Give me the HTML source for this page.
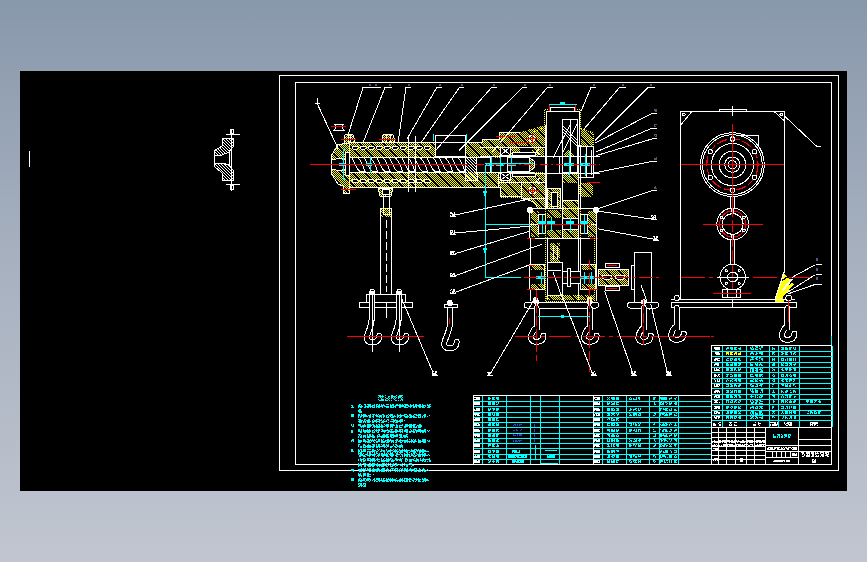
<!DOCTYPE html>
<html><head><meta charset="utf-8">
<style>
html,body{margin:0;padding:0;width:867px;height:562px;overflow:hidden;}
body{background:linear-gradient(to bottom,#8898ab 0%,#a6b0bf 45%,#c1c6d0 100%);font-family:"Liberation Sans",sans-serif;}
svg{position:absolute;left:0;top:0;display:block;}
</style></head><body>
<svg width="867" height="562" viewBox="0 0 867 562" shape-rendering="crispEdges">
<defs>
<pattern id="h" x="0" y="0" width="12" height="12" patternUnits="userSpaceOnUse"><rect x="2" y="0" width="1" height="1" fill="#ff0"/><rect x="4" y="0" width="1" height="1" fill="#ff0"/><rect x="6" y="0" width="1" height="1" fill="#ff0"/><rect x="8" y="0" width="1" height="1" fill="#ff0"/><rect x="10" y="0" width="1" height="1" fill="#ff0"/><rect x="3" y="1" width="1" height="1" fill="#ff0"/><rect x="5" y="1" width="1" height="1" fill="#ff0"/><rect x="7" y="1" width="1" height="1" fill="#ff0"/><rect x="9" y="1" width="1" height="1" fill="#ff0"/><rect x="11" y="1" width="1" height="1" fill="#ff0"/><rect x="0" y="2" width="1" height="1" fill="#ff0"/><rect x="4" y="2" width="1" height="1" fill="#ff0"/><rect x="6" y="2" width="1" height="1" fill="#ff0"/><rect x="8" y="2" width="1" height="1" fill="#ff0"/><rect x="10" y="2" width="1" height="1" fill="#ff0"/><rect x="1" y="3" width="1" height="1" fill="#ff0"/><rect x="5" y="3" width="1" height="1" fill="#ff0"/><rect x="7" y="3" width="1" height="1" fill="#ff0"/><rect x="9" y="3" width="1" height="1" fill="#ff0"/><rect x="11" y="3" width="1" height="1" fill="#ff0"/><rect x="0" y="4" width="1" height="1" fill="#ff0"/><rect x="2" y="4" width="1" height="1" fill="#ff0"/><rect x="6" y="4" width="1" height="1" fill="#ff0"/><rect x="8" y="4" width="1" height="1" fill="#ff0"/><rect x="10" y="4" width="1" height="1" fill="#ff0"/><rect x="1" y="5" width="1" height="1" fill="#ff0"/><rect x="3" y="5" width="1" height="1" fill="#ff0"/><rect x="7" y="5" width="1" height="1" fill="#ff0"/><rect x="9" y="5" width="1" height="1" fill="#ff0"/><rect x="11" y="5" width="1" height="1" fill="#ff0"/><rect x="0" y="6" width="1" height="1" fill="#ff0"/><rect x="2" y="6" width="1" height="1" fill="#ff0"/><rect x="4" y="6" width="1" height="1" fill="#ff0"/><rect x="8" y="6" width="1" height="1" fill="#ff0"/><rect x="10" y="6" width="1" height="1" fill="#ff0"/><rect x="1" y="7" width="1" height="1" fill="#ff0"/><rect x="3" y="7" width="1" height="1" fill="#ff0"/><rect x="5" y="7" width="1" height="1" fill="#ff0"/><rect x="9" y="7" width="1" height="1" fill="#ff0"/><rect x="11" y="7" width="1" height="1" fill="#ff0"/><rect x="0" y="8" width="1" height="1" fill="#ff0"/><rect x="2" y="8" width="1" height="1" fill="#ff0"/><rect x="4" y="8" width="1" height="1" fill="#ff0"/><rect x="6" y="8" width="1" height="1" fill="#ff0"/><rect x="10" y="8" width="1" height="1" fill="#ff0"/><rect x="1" y="9" width="1" height="1" fill="#ff0"/><rect x="3" y="9" width="1" height="1" fill="#ff0"/><rect x="5" y="9" width="1" height="1" fill="#ff0"/><rect x="7" y="9" width="1" height="1" fill="#ff0"/><rect x="11" y="9" width="1" height="1" fill="#ff0"/><rect x="0" y="10" width="1" height="1" fill="#ff0"/><rect x="2" y="10" width="1" height="1" fill="#ff0"/><rect x="4" y="10" width="1" height="1" fill="#ff0"/><rect x="6" y="10" width="1" height="1" fill="#ff0"/><rect x="8" y="10" width="1" height="1" fill="#ff0"/><rect x="1" y="11" width="1" height="1" fill="#ff0"/><rect x="3" y="11" width="1" height="1" fill="#ff0"/><rect x="5" y="11" width="1" height="1" fill="#ff0"/><rect x="7" y="11" width="1" height="1" fill="#ff0"/><rect x="9" y="11" width="1" height="1" fill="#ff0"/></pattern>
<pattern id="h2" x="0" y="0" width="12" height="12" patternUnits="userSpaceOnUse"><rect x="2" y="0" width="1" height="1" fill="#ff0"/><rect x="4" y="0" width="1" height="1" fill="#ff0"/><rect x="6" y="0" width="1" height="1" fill="#ff0"/><rect x="8" y="0" width="1" height="1" fill="#ff0"/><rect x="10" y="0" width="1" height="1" fill="#ff0"/><rect x="1" y="1" width="1" height="1" fill="#ff0"/><rect x="3" y="1" width="1" height="1" fill="#ff0"/><rect x="5" y="1" width="1" height="1" fill="#ff0"/><rect x="7" y="1" width="1" height="1" fill="#ff0"/><rect x="9" y="1" width="1" height="1" fill="#ff0"/><rect x="0" y="2" width="1" height="1" fill="#ff0"/><rect x="2" y="2" width="1" height="1" fill="#ff0"/><rect x="4" y="2" width="1" height="1" fill="#ff0"/><rect x="6" y="2" width="1" height="1" fill="#ff0"/><rect x="8" y="2" width="1" height="1" fill="#ff0"/><rect x="1" y="3" width="1" height="1" fill="#ff0"/><rect x="3" y="3" width="1" height="1" fill="#ff0"/><rect x="5" y="3" width="1" height="1" fill="#ff0"/><rect x="7" y="3" width="1" height="1" fill="#ff0"/><rect x="11" y="3" width="1" height="1" fill="#ff0"/><rect x="0" y="4" width="1" height="1" fill="#ff0"/><rect x="2" y="4" width="1" height="1" fill="#ff0"/><rect x="4" y="4" width="1" height="1" fill="#ff0"/><rect x="6" y="4" width="1" height="1" fill="#ff0"/><rect x="10" y="4" width="1" height="1" fill="#ff0"/><rect x="1" y="5" width="1" height="1" fill="#ff0"/><rect x="3" y="5" width="1" height="1" fill="#ff0"/><rect x="5" y="5" width="1" height="1" fill="#ff0"/><rect x="9" y="5" width="1" height="1" fill="#ff0"/><rect x="11" y="5" width="1" height="1" fill="#ff0"/><rect x="0" y="6" width="1" height="1" fill="#ff0"/><rect x="2" y="6" width="1" height="1" fill="#ff0"/><rect x="4" y="6" width="1" height="1" fill="#ff0"/><rect x="8" y="6" width="1" height="1" fill="#ff0"/><rect x="10" y="6" width="1" height="1" fill="#ff0"/><rect x="1" y="7" width="1" height="1" fill="#ff0"/><rect x="3" y="7" width="1" height="1" fill="#ff0"/><rect x="7" y="7" width="1" height="1" fill="#ff0"/><rect x="9" y="7" width="1" height="1" fill="#ff0"/><rect x="11" y="7" width="1" height="1" fill="#ff0"/><rect x="0" y="8" width="1" height="1" fill="#ff0"/><rect x="2" y="8" width="1" height="1" fill="#ff0"/><rect x="6" y="8" width="1" height="1" fill="#ff0"/><rect x="8" y="8" width="1" height="1" fill="#ff0"/><rect x="10" y="8" width="1" height="1" fill="#ff0"/><rect x="1" y="9" width="1" height="1" fill="#ff0"/><rect x="5" y="9" width="1" height="1" fill="#ff0"/><rect x="7" y="9" width="1" height="1" fill="#ff0"/><rect x="9" y="9" width="1" height="1" fill="#ff0"/><rect x="11" y="9" width="1" height="1" fill="#ff0"/><rect x="0" y="10" width="1" height="1" fill="#ff0"/><rect x="4" y="10" width="1" height="1" fill="#ff0"/><rect x="6" y="10" width="1" height="1" fill="#ff0"/><rect x="8" y="10" width="1" height="1" fill="#ff0"/><rect x="10" y="10" width="1" height="1" fill="#ff0"/><rect x="3" y="11" width="1" height="1" fill="#ff0"/><rect x="5" y="11" width="1" height="1" fill="#ff0"/><rect x="7" y="11" width="1" height="1" fill="#ff0"/><rect x="9" y="11" width="1" height="1" fill="#ff0"/><rect x="11" y="11" width="1" height="1" fill="#ff0"/></pattern>
<pattern id="hw" x="0" y="0" width="3" height="3" patternUnits="userSpaceOnUse"><rect x="0" y="0" width="1" height="1" fill="#fff"/><rect x="1" y="1" width="1" height="1" fill="#fff"/><rect x="2" y="2" width="1" height="1" fill="#fff"/></pattern>
</defs>
<rect x="20" y="71" width="827" height="420" fill="#000" />
<g fill="none" stroke="#fff" stroke-width="1">
<rect x="279.5" y="75.5" width="559" height="395"/>
<rect x="295.5" y="82.5" width="536" height="382"/>
</g>
<line x1="29.5" y1="151" x2="29.5" y2="167" stroke="#fff" stroke-width="1" />
<polygon points="222,138 233,138 233,147 229.5,151 229.5,166 233,170 233,180 222,180 222,173 214,166 214,151 222,146" fill="url(#hw)" stroke="#fff" stroke-width="1" />
<polygon points="214,155 222,155 229,152 229,165 222,163 214,163" fill="#000" stroke="#fff" stroke-width="1" />
<line x1="226" y1="134.5" x2="240" y2="134.5" stroke="#fff" stroke-width="1" />
<line x1="226" y1="184.5" x2="240" y2="184.5" stroke="#fff" stroke-width="1" />
<rect x="230.5" y="129.5" width="3" height="4" fill="none" stroke="#fff" stroke-width="1" />
<rect x="230.5" y="185.5" width="3" height="4" fill="none" stroke="#fff" stroke-width="1" />
<line x1="231.5" y1="129" x2="231.5" y2="191" stroke="#fff" stroke-width="1" />
<g>
<polygon points="338,144.5 349,143 349,193 343,193 343,186 338,184 331,173 331,156" fill="url(#h)" stroke="#fff" stroke-width="1" />
<rect x="349" y="143" width="133" height="14" fill="url(#h)" />
<rect x="349" y="172" width="133" height="15" fill="url(#h)" />
<rect x="482" y="139.5" width="18" height="18" fill="url(#h)" />
<rect x="499" y="132" width="21" height="25" fill="url(#h)" />
<polygon points="520,132 545.5,125 545.5,146 520,146" fill="url(#h)" />
<rect x="482" y="172" width="64" height="16" fill="url(#h)" />
<rect x="500" y="172" width="46" height="26" fill="url(#h)" />
<polygon points="532,133 544,127 544,156 532,156" fill="url(#h)" />
<polygon points="580.5,128 593,133 593,150 580.5,150" fill="url(#h)" />
<rect x="578" y="183" width="15" height="14" fill="url(#h)" />
<rect x="525" y="182" width="21" height="18" fill="url(#h)" />
<rect x="562" y="145" width="16" height="11" fill="url(#h)" />
<rect x="562" y="173" width="16" height="10" fill="url(#h)" />
<rect x="435.5" y="135.5" width="30" height="21" fill="#000" stroke="#fff" stroke-width="1" />
<line x1="433.5" y1="134" x2="433.5" y2="141" stroke="#0ff" stroke-width="1" />
<line x1="466.5" y1="134" x2="466.5" y2="141" stroke="#0ff" stroke-width="1" />
<path d="M344,143 L344,138 Q344,134 347,134 L351,134 Q354,134 354,138 L354,143" fill="url(#h2)" stroke="#fff"/>
<line x1="348" y1="134" x2="348" y2="143" stroke="#fff" stroke-width="1" />
<line x1="350" y1="134" x2="350" y2="143" stroke="#fff" stroke-width="1" />
<line x1="341" y1="139.5" x2="356" y2="139.5" stroke="#f00" stroke-width="1" />
<path d="M382,143 L382,138 Q382,134 385,134 L391,134 Q394,134 394,138 L394,143" fill="url(#h2)" stroke="#fff"/>
<line x1="386" y1="134" x2="386" y2="143" stroke="#fff" stroke-width="1" />
<line x1="390" y1="134" x2="390" y2="143" stroke="#fff" stroke-width="1" />
<line x1="379" y1="139.5" x2="396" y2="139.5" stroke="#f00" stroke-width="1" />
<path d="M334,124 Q338,127 334,130 L344,130 Q340,127 344,124 Z" fill="#000" stroke="#fff"/>
<line x1="331" y1="126.5" x2="346" y2="126.5" stroke="#f00" stroke-width="1" />
<path d="M378,188 L380,196 L391,196 L393,188 Z" fill="url(#h)" stroke="#fff"/>
<rect x="382.5" y="189.5" width="7" height="5" fill="#000" stroke="#fff" stroke-width="1" />
<line x1="341" y1="189.5" x2="356" y2="189.5" stroke="#f00" stroke-width="1" />
<line x1="349" y1="142.5" x2="482" y2="142.5" stroke="#fff" stroke-width="1" />
<line x1="349" y1="187" x2="482" y2="187" stroke="#fff" stroke-width="1" />
<rect x="352" y="146" width="6" height="3" rx="1" fill="#000" stroke="#fff"/>
<rect x="360" y="146" width="6" height="3" rx="1" fill="#000" stroke="#fff"/>
<rect x="368" y="146" width="6" height="3" rx="1" fill="#000" stroke="#fff"/>
<rect x="376" y="146" width="6" height="3" rx="1" fill="#000" stroke="#fff"/>
<rect x="384" y="146" width="6" height="3" rx="1" fill="#000" stroke="#fff"/>
<rect x="392" y="146" width="6" height="3" rx="1" fill="#000" stroke="#fff"/>
<rect x="400" y="146" width="6" height="3" rx="1" fill="#000" stroke="#fff"/>
<rect x="408" y="146" width="6" height="3" rx="1" fill="#000" stroke="#fff"/>
<rect x="416" y="146" width="6" height="3" rx="1" fill="#000" stroke="#fff"/>
<rect x="424" y="146" width="6" height="3" rx="1" fill="#000" stroke="#fff"/>
<rect x="352" y="179.5" width="6" height="3" rx="1" fill="#000" stroke="#fff"/>
<rect x="360" y="179.5" width="6" height="3" rx="1" fill="#000" stroke="#fff"/>
<rect x="368" y="179.5" width="6" height="3" rx="1" fill="#000" stroke="#fff"/>
<rect x="376" y="179.5" width="6" height="3" rx="1" fill="#000" stroke="#fff"/>
<rect x="384" y="179.5" width="6" height="3" rx="1" fill="#000" stroke="#fff"/>
<rect x="392" y="179.5" width="6" height="3" rx="1" fill="#000" stroke="#fff"/>
<rect x="400" y="179.5" width="6" height="3" rx="1" fill="#000" stroke="#fff"/>
<rect x="408" y="179.5" width="6" height="3" rx="1" fill="#000" stroke="#fff"/>
<rect x="416" y="179.5" width="6" height="3" rx="1" fill="#000" stroke="#fff"/>
<rect x="424" y="179.5" width="6" height="3" rx="1" fill="#000" stroke="#fff"/>
<rect x="349" y="157" width="116" height="15" fill="#000"/>
<line x1="349" y1="157" x2="465" y2="157" stroke="#fff" stroke-width="1" />
<line x1="349" y1="172" x2="465" y2="172" stroke="#fff" stroke-width="1" />
<path d="M352.0,157.5 L357.0,157.5 Q361.0,159 365.0,171.5 L360.0,171.5 Q357.0,170 352.0,157.5 Z" fill="none" stroke="#fff"/>
<path d="M364.5,157.5 L369.5,157.5 Q373.5,159 377.5,171.5 L372.5,171.5 Q369.5,170 364.5,157.5 Z" fill="none" stroke="#fff"/>
<path d="M377.0,157.5 L382.0,157.5 Q386.0,159 390.0,171.5 L385.0,171.5 Q382.0,170 377.0,157.5 Z" fill="none" stroke="#fff"/>
<path d="M389.5,157.5 L394.5,157.5 Q398.5,159 402.5,171.5 L397.5,171.5 Q394.5,170 389.5,157.5 Z" fill="none" stroke="#fff"/>
<path d="M402.0,157.5 L407.0,157.5 Q411.0,159 415.0,171.5 L410.0,171.5 Q407.0,170 402.0,157.5 Z" fill="none" stroke="#fff"/>
<path d="M414.5,157.5 L419.5,157.5 Q423.5,159 427.5,171.5 L422.5,171.5 Q419.5,170 414.5,157.5 Z" fill="none" stroke="#fff"/>
<path d="M427.0,157.5 L432.0,157.5 Q436.0,159 440.0,171.5 L435.0,171.5 Q432.0,170 427.0,157.5 Z" fill="none" stroke="#fff"/>
<path d="M439.5,157.5 L444.5,157.5 Q448.5,159 452.5,171.5 L447.5,171.5 Q444.5,170 439.5,157.5 Z" fill="none" stroke="#fff"/>
<path d="M452.0,157.5 L457.0,157.5 Q461.0,159 465.0,171.5 L460.0,171.5 Q457.0,170 452.0,157.5 Z" fill="none" stroke="#fff"/>
<polygon points="331.5,160 340,158 345,160 345,169 340,171 331.5,169" fill="#000" stroke="#fff" stroke-width="1" />
<rect x="345.5" y="152.5" width="4" height="23" fill="#000" stroke="#fff" stroke-width="1" />
<polyline points="346,149 343.5,149 343.5,179 346,179" fill="none" stroke="#0ff" stroke-width="1" />
<line x1="339" y1="164" x2="345" y2="164" stroke="#0ff" stroke-width="3" />
<line x1="370" y1="156" x2="370" y2="173" stroke="#0ff" stroke-width="1" />
<line x1="366" y1="164" x2="372" y2="164" stroke="#0ff" stroke-width="3" />
<line x1="408.5" y1="136" x2="408.5" y2="192" stroke="#fff" stroke-width="1" />
<line x1="415.5" y1="136" x2="415.5" y2="192" stroke="#fff" stroke-width="1" />
<rect x="465.5" y="157.5" width="12" height="23" fill="url(#hw)" stroke="#fff" stroke-width="1" />
<rect x="476.5" y="157" width="13.5" height="15" fill="#000" stroke="#fff" stroke-width="1" />
<rect x="500.5" y="147" width="10" height="8.5" fill="#000" stroke="#fff" stroke-width="1" />
<line x1="501" y1="147" x2="510" y2="155" stroke="#fff" stroke-width="1" />
<line x1="510" y1="147" x2="501" y2="155" stroke="#fff" stroke-width="1" />
<rect x="500.5" y="172.5" width="10" height="8" fill="#000" stroke="#fff" stroke-width="1" />
<line x1="501" y1="173" x2="510" y2="180" stroke="#fff" stroke-width="1" />
<line x1="510" y1="173" x2="501" y2="180" stroke="#fff" stroke-width="1" />
<rect x="507" y="157.5" width="22" height="14" fill="#000" stroke="#fff" stroke-width="1" />
<rect x="512" y="152" width="23" height="3.5" fill="#000" stroke="#fff" stroke-width="1" />
<rect x="512" y="173" width="23" height="3.5" fill="#000" stroke="#fff" stroke-width="1" />
<polygon points="529,157.5 534,161 534,168 529,171.5" fill="url(#h)" stroke="#fff" stroke-width="1" />
<line x1="480" y1="147.5" x2="500" y2="147.5" stroke="#fff" stroke-width="1" />
<line x1="511" y1="147.5" x2="545" y2="147.5" stroke="#fff" stroke-width="1" />
<line x1="480" y1="156.5" x2="534" y2="156.5" stroke="#fff" stroke-width="1" />
<line x1="480" y1="172.5" x2="534" y2="172.5" stroke="#fff" stroke-width="1" />
<line x1="498.5" y1="182.5" x2="545" y2="182.5" stroke="#fff" stroke-width="1" />
<line x1="521.5" y1="182.5" x2="521.5" y2="198" stroke="#fff" stroke-width="1" />
<line x1="498.5" y1="172" x2="498.5" y2="188" stroke="#fff" stroke-width="1" />
<line x1="499.5" y1="132" x2="499.5" y2="139.5" stroke="#fff" stroke-width="1" />
<line x1="482.5" y1="139.5" x2="482.5" y2="143" stroke="#fff" stroke-width="1" />
<line x1="545.5" y1="125" x2="545.5" y2="198" stroke="#fff" stroke-width="1" />
<line x1="500" y1="132.5" x2="520" y2="132.5" stroke="#fff" stroke-width="1" />
<line x1="482" y1="139.5" x2="499" y2="139.5" stroke="#fff" stroke-width="1" />
<polyline points="482,187.5 500,187.5 500,196.5 521,196.5 521,198.5 545,198.5" fill="none" stroke="#fff" stroke-width="1" />
<polyline points="540,149 536,152 540,155" fill="none" stroke="#fff" stroke-width="1" />
<polyline points="540,178 536,181 540,184" fill="none" stroke="#fff" stroke-width="1" />
<circle cx="532" cy="138.5" r="3" fill="none" stroke="#fff" stroke-width="1.2" />
<line x1="526" y1="138.5" x2="538" y2="138.5" stroke="#f00" stroke-width="1" />
<line x1="532" y1="133.5" x2="532" y2="143.5" stroke="#f00" stroke-width="1" />
<circle cx="532.5" cy="190.5" r="3" fill="none" stroke="#fff" stroke-width="1.2" />
<line x1="526.5" y1="190.5" x2="538.5" y2="190.5" stroke="#f00" stroke-width="1" />
<line x1="532.5" y1="185.5" x2="532.5" y2="195.5" stroke="#f00" stroke-width="1" />
<line x1="496" y1="136" x2="516" y2="136" stroke="#f00" stroke-width="1" />
<line x1="509" y1="142" x2="530" y2="142" stroke="#f00" stroke-width="1" />
<path d="M521,198.5 L545,198.5 L545,208 L538,209 Q536,202 528,200 Z" fill="url(#h)" stroke="#fff"/>
<polyline points="532,133 544.5,127 544.5,109.5 580.5,109.5 580.5,128 593,133 593,156" fill="none" stroke="#ff0" stroke-width="1" stroke-dasharray="1,1"/>
<rect x="546.5" y="111" width="32.5" height="45" fill="#000" stroke="#fff" stroke-width="1" />
<line x1="548.5" y1="104.5" x2="577" y2="104.5" stroke="#0ff" stroke-width="1" />
<rect x="560" y="102" width="5" height="2" fill="#0ff" />
<line x1="549.5" y1="105" x2="549.5" y2="111" stroke="#f00" stroke-width="1" />
<line x1="575.5" y1="105" x2="575.5" y2="111" stroke="#f00" stroke-width="1" />
<rect x="550.5" y="107.5" width="24" height="4" fill="#000" stroke="#fff" stroke-width="1" />
<rect x="562.5" y="119.5" width="15" height="53" fill="#000" stroke="#fff" stroke-width="1" />
<line x1="563" y1="126" x2="577" y2="140" stroke="#fff" stroke-width="1" />
<line x1="563" y1="129" x2="577" y2="143" stroke="#fff" stroke-width="1" />
<line x1="563" y1="132" x2="577" y2="146" stroke="#fff" stroke-width="1" />
<line x1="577" y1="124" x2="563" y2="152" stroke="#fff" stroke-width="1" />
<polygon points="563,156 570,148 577,156" fill="url(#h)" />
<line x1="570" y1="119" x2="570" y2="173" stroke="#fff" stroke-width="1" />
<line x1="570" y1="125" x2="553" y2="158" stroke="#fff" stroke-width="1" />
<rect x="578.5" y="146" width="15" height="31" fill="#000" stroke="#fff" stroke-width="1" />
<line x1="586" y1="146" x2="586" y2="177" stroke="#fff" stroke-width="1" />
<line x1="591" y1="150" x2="591" y2="175" stroke="#fff" stroke-width="1" />
<line x1="534" y1="156.2" x2="600" y2="156.2" stroke="#fff" stroke-width="1" />
<line x1="534" y1="173" x2="600" y2="173" stroke="#fff" stroke-width="1" />
<line x1="546.2" y1="156" x2="546.2" y2="215" stroke="#fff" stroke-width="1" />
<line x1="559.3" y1="156" x2="559.3" y2="173" stroke="#fff" stroke-width="1" />
<line x1="562.4" y1="145" x2="562.4" y2="215" stroke="#fff" stroke-width="1" />
<line x1="578" y1="145" x2="578" y2="215" stroke="#fff" stroke-width="1" />
<line x1="580.5" y1="145" x2="580.5" y2="215" stroke="#fff" stroke-width="1" />
<line x1="485" y1="163.5" x2="534" y2="163.5" stroke="#0ff" stroke-width="1" />
<line x1="491.4" y1="157" x2="491.4" y2="172" stroke="#0ff" stroke-width="1" />
<line x1="500.6" y1="157" x2="500.6" y2="172" stroke="#0ff" stroke-width="1" />
<line x1="511.6" y1="157" x2="511.6" y2="172" stroke="#0ff" stroke-width="1" />
<line x1="486" y1="164" x2="494" y2="164" stroke="#0ff" stroke-width="3" />
<line x1="496" y1="164" x2="504" y2="164" stroke="#0ff" stroke-width="3" />
<line x1="508" y1="164" x2="516" y2="164" stroke="#0ff" stroke-width="3" />
<line x1="569" y1="152" x2="569" y2="178" stroke="#0ff" stroke-width="1" />
<line x1="585" y1="154" x2="585" y2="176" stroke="#0ff" stroke-width="1" />
<line x1="580" y1="164" x2="590" y2="164" stroke="#0ff" stroke-width="3" />
<line x1="564" y1="164" x2="574" y2="164" stroke="#0ff" stroke-width="3" />
<line x1="310" y1="164.5" x2="460" y2="164.5" stroke="#f00" stroke-width="1"/>
<line x1="460" y1="164.5" x2="600" y2="164.5" stroke="#f00" stroke-width="1" stroke-dasharray="8,3,2,3"/>
<line x1="587" y1="182" x2="600" y2="182" stroke="#f00" stroke-width="1" />
<rect x="529.5" y="208.5" width="67" height="30" fill="#000" stroke="#fff" stroke-width="1" />
<rect x="531" y="211" width="8" height="26" fill="url(#h)" />
<rect x="588" y="211" width="8" height="26" fill="url(#h)" />
<rect x="538.5" y="214.5" width="7" height="19" fill="#000" stroke="#fff" stroke-width="1" />
<rect x="580.5" y="214.5" width="7" height="19" fill="#000" stroke="#fff" stroke-width="1" />
<rect x="547" y="210" width="14" height="8" fill="url(#h)" />
<rect x="547" y="230" width="14" height="8" fill="url(#h)" />
<rect x="562.5" y="200.5" width="16" height="38" fill="url(#h)" stroke="#fff" stroke-width="1" />
<line x1="562.5" y1="218.5" x2="578.5" y2="218.5" stroke="#fff" stroke-width="1" />
<line x1="562.5" y1="229.5" x2="578.5" y2="229.5" stroke="#fff" stroke-width="1" />
<rect x="563" y="219" width="15" height="10" fill="#000" />
<polyline points="545.5,209 545.5,238" fill="none" stroke="#ff0" stroke-width="1" stroke-dasharray="1,1"/>
<polyline points="580,209 580,238" fill="none" stroke="#ff0" stroke-width="1" stroke-dasharray="1,1"/>
<line x1="529.5" y1="224.5" x2="596" y2="224.5" stroke="#fff" stroke-width="1" />
<line x1="538" y1="224.4" x2="591" y2="224.4" stroke="#f00" stroke-width="1"/>
<line x1="527" y1="238" x2="535" y2="238" stroke="#f00" stroke-width="1" />
<line x1="590" y1="238" x2="598" y2="238" stroke="#f00" stroke-width="1" />
<line x1="542" y1="215" x2="542" y2="234" stroke="#0ff" stroke-width="1" />
<line x1="584" y1="215" x2="584" y2="234" stroke="#0ff" stroke-width="1" />
<line x1="551" y1="218" x2="551" y2="232" stroke="#0ff" stroke-width="1" />
<line x1="570" y1="218" x2="570" y2="232" stroke="#0ff" stroke-width="1" />
<line x1="538" y1="222" x2="546" y2="222" stroke="#0ff" stroke-width="3" />
<line x1="547" y1="222" x2="555" y2="222" stroke="#0ff" stroke-width="3" />
<line x1="566" y1="222" x2="574" y2="222" stroke="#0ff" stroke-width="3" />
<line x1="580" y1="222" x2="588" y2="222" stroke="#0ff" stroke-width="3" />
<circle cx="530" cy="210" r="2.5" fill="#fff" stroke="#fff" stroke-width="1" />
<circle cx="596" cy="210" r="2.5" fill="#fff" stroke="#fff" stroke-width="1" />
<circle cx="535.5" cy="300" r="2.5" fill="#fff" stroke="#fff" stroke-width="1" />
<circle cx="589.5" cy="300" r="2.5" fill="#fff" stroke="#fff" stroke-width="1" />
<line x1="530" y1="238" x2="530" y2="301" stroke="#fff" stroke-width="1" />
<line x1="596" y1="238" x2="596" y2="301" stroke="#fff" stroke-width="1" />
<polyline points="545,238 545,301 594,301 594,238" fill="none" stroke="#ff0" stroke-width="1" stroke-dasharray="1,1"/>
<line x1="547.5" y1="238" x2="547.5" y2="300" stroke="#fff" stroke-width="1" />
<line x1="578" y1="238" x2="578" y2="300" stroke="#fff" stroke-width="1" />
<line x1="580.5" y1="238" x2="580.5" y2="264" stroke="#fff" stroke-width="1" />
<rect x="550" y="243" width="10" height="19" fill="url(#h)" />
<line x1="553" y1="246" x2="553" y2="260" stroke="#fff" stroke-width="1" />
<line x1="557" y1="246" x2="557" y2="260" stroke="#fff" stroke-width="1" />
<rect x="529.5" y="264.5" width="15" height="25" fill="#000" stroke="#fff" stroke-width="1" />
<rect x="530.5" y="265" width="14" height="5" fill="url(#h)" />
<rect x="530.5" y="284" width="14" height="5" fill="url(#h)" />
<rect x="580.5" y="264.5" width="15" height="25" fill="#000" stroke="#fff" stroke-width="1" />
<rect x="581.5" y="265" width="14" height="5" fill="url(#h)" />
<rect x="581.5" y="284" width="14" height="5" fill="url(#h)" />
<rect x="547.5" y="262.5" width="14.5" height="33" fill="#000" stroke="#fff" stroke-width="1" />
<line x1="548" y1="270" x2="561" y2="270" stroke="#fff" stroke-width="1" />
<line x1="553" y1="272" x2="563" y2="300" stroke="#fff" stroke-width="1" />
<rect x="562" y="271.5" width="18" height="11.5" fill="#000" stroke="#fff" stroke-width="1" />
<rect x="567" y="268" width="3" height="18" fill="#000" stroke="#fff" stroke-width="1" />
<line x1="541" y1="272" x2="541" y2="284" stroke="#0ff" stroke-width="1" />
<line x1="536" y1="277" x2="545" y2="277" stroke="#0ff" stroke-width="3" />
<line x1="584" y1="272" x2="584" y2="284" stroke="#0ff" stroke-width="1" />
<line x1="580" y1="277" x2="588" y2="277" stroke="#0ff" stroke-width="3" />
<line x1="591" y1="272" x2="591" y2="284" stroke="#0ff" stroke-width="1" />
<line x1="588" y1="277" x2="594" y2="277" stroke="#0ff" stroke-width="3" />
<rect x="546" y="295" width="48" height="5" fill="url(#h)" />
<line x1="527" y1="265" x2="535" y2="265" stroke="#f00" stroke-width="1" />
<line x1="527" y1="289" x2="535" y2="289" stroke="#f00" stroke-width="1" />
<line x1="590" y1="289" x2="598" y2="289" stroke="#f00" stroke-width="1" />
<rect x="547.5" y="188.5" width="13" height="20" fill="url(#h)" stroke="#fff" stroke-width="1" />
<rect x="551" y="192" width="6" height="14" fill="#000" stroke="#fff" stroke-width="1" />
<rect x="524" y="302.5" width="74.5" height="5.5" rx="2.5" fill="#000" stroke="#fff"/>
<rect x="598" y="269" width="30" height="16.5" fill="url(#h)" stroke="#fff" stroke-width="1" />
<rect x="605" y="263.5" width="14" height="4" fill="#000" stroke="#fff" stroke-width="1" />
<rect x="605" y="286" width="14" height="4.5" fill="#000" stroke="#fff" stroke-width="1" />
<line x1="607" y1="265.5" x2="617" y2="265.5" stroke="#f00" stroke-width="1" />
<line x1="607" y1="288" x2="617" y2="288" stroke="#f00" stroke-width="1" />
<rect x="602" y="275" width="10" height="4" rx="2" fill="#000" stroke="#fff"/>
<rect x="615" y="275" width="10" height="4" rx="2" fill="#000" stroke="#fff"/>
<rect x="634.5" y="252.5" width="17" height="49.5" fill="#000" stroke="#fff" stroke-width="1" />
<rect x="631" y="265.5" width="3.5" height="23.5" fill="#000" stroke="#fff" stroke-width="1" />
<line x1="641" y1="285" x2="650" y2="310" stroke="#fff" stroke-width="1" />
<rect x="627.5" y="302.5" width="31" height="5.5" rx="2.5" fill="#000" stroke="#fff"/>
<line x1="524" y1="277.3" x2="661" y2="277.3" stroke="#f00" stroke-width="1" stroke-dasharray="14,3,3,3"/>
<line x1="515" y1="277" x2="521" y2="277" stroke="#0ff" stroke-width="1" />
<polyline points="485,165 485,277 521,277" fill="none" stroke="#0ff" stroke-width="1" />
<line x1="485" y1="224.6" x2="530" y2="224.6" stroke="#0ff" stroke-width="1" />
<polygon points="483,191 487,191 485,198" fill="#0ff" />
<polygon points="483,248 487,248 485,255" fill="#0ff" />
<rect x="380.5" y="208.5" width="11" height="87" fill="#000" stroke="#fff" stroke-width="1" />
<rect x="381" y="208" width="10" height="9" fill="url(#h)" />
<line x1="383.5" y1="196" x2="383.5" y2="208" stroke="#fff" stroke-width="1" />
<line x1="389.5" y1="196" x2="389.5" y2="208" stroke="#fff" stroke-width="1" />
<polyline points="383,209 383,214 389,214 389,209" fill="none" stroke="#fff" stroke-width="1" />
<line x1="386" y1="220" x2="386" y2="292" stroke="#fff" stroke-dasharray="8,3"/>
<rect x="366.5" y="294.5" width="39" height="8" fill="#000" stroke="#fff" stroke-width="1" />
<rect x="359.5" y="302.5" width="53" height="5" fill="#000" stroke="#fff" stroke-width="1" />
<line x1="386" y1="302" x2="386" y2="318" stroke="#fff" stroke-width="1" />
<path d="M372.3,292 L372.3,314 Q371.3,326 367.3,335 Q365.3,342 372.3,342.5 Q379.3,342 379.3,336" fill="none" stroke="#fff" stroke-width="6" stroke-linecap="round"/>
<path d="M372.3,292 L372.3,314 Q371.3,326 367.3,335 Q365.3,342 372.3,342.5 Q379.3,342 379.3,336" fill="none" stroke="#000" stroke-width="4" stroke-linecap="round"/>
<line x1="372.3" y1="292" x2="372.3" y2="352" stroke="#fff" stroke-width="1" />
<circle cx="372.3" cy="293" r="2" fill="#fff" stroke="#fff" stroke-width="1" />
<path d="M399.3,292 L399.3,314 Q398.3,326 394.3,335 Q392.3,342 399.3,342.5 Q406.3,342 406.3,336" fill="none" stroke="#fff" stroke-width="6" stroke-linecap="round"/>
<path d="M399.3,292 L399.3,314 Q398.3,326 394.3,335 Q392.3,342 399.3,342.5 Q406.3,342 406.3,336" fill="none" stroke="#000" stroke-width="4" stroke-linecap="round"/>
<line x1="399.3" y1="292" x2="399.3" y2="352" stroke="#fff" stroke-width="1" />
<circle cx="399.3" cy="293" r="2" fill="#fff" stroke="#fff" stroke-width="1" />
<line x1="347" y1="336.5" x2="424" y2="336.5" stroke="#f00" stroke-width="1"/>
<line x1="401" y1="297" x2="434" y2="375" stroke="#fff" stroke-width="1" />
<path d="M449.7,304 L449.7,326 Q448.7,332 444.7,341 Q442.7,348 449.7,348.5 Q456.7,348 456.7,342" fill="none" stroke="#fff" stroke-width="6" stroke-linecap="round"/>
<path d="M449.7,304 L449.7,326 Q448.7,332 444.7,341 Q442.7,348 449.7,348.5 Q456.7,348 456.7,342" fill="none" stroke="#000" stroke-width="4" stroke-linecap="round"/>
<rect x="444.5" y="304" width="13" height="3" fill="#000" stroke="#fff" stroke-width="1" />
<circle cx="449.7" cy="303" r="2.5" fill="#fff" stroke="#fff" stroke-width="1" />
<line x1="449.7" y1="318" x2="449.7" y2="324" stroke="#f00" stroke-width="1" />
<path d="M536.5,308 L536.5,330 Q535.5,325.5 531.5,334.5 Q529.5,341.5 536.5,342.0 Q543.5,341.5 543.5,335.5" fill="none" stroke="#fff" stroke-width="6" stroke-linecap="round"/>
<path d="M536.5,308 L536.5,330 Q535.5,325.5 531.5,334.5 Q529.5,341.5 536.5,342.0 Q543.5,341.5 543.5,335.5" fill="none" stroke="#000" stroke-width="4" stroke-linecap="round"/>
<circle cx="536.5" cy="302" r="2.2" fill="#fff" stroke="#fff" stroke-width="1" />
<path d="M589.6,308 L589.6,330 Q588.6,325.5 584.6,334.5 Q582.6,341.5 589.6,342.0 Q596.6,341.5 596.6,335.5" fill="none" stroke="#fff" stroke-width="6" stroke-linecap="round"/>
<path d="M589.6,308 L589.6,330 Q588.6,325.5 584.6,334.5 Q582.6,341.5 589.6,342.0 Q596.6,341.5 596.6,335.5" fill="none" stroke="#000" stroke-width="4" stroke-linecap="round"/>
<circle cx="589.6" cy="302" r="2.2" fill="#fff" stroke="#fff" stroke-width="1" />
<path d="M643.8,308 L643.8,330 Q642.8,325.5 638.8,334.5 Q636.8,341.5 643.8,342.0 Q650.8,341.5 650.8,335.5" fill="none" stroke="#fff" stroke-width="6" stroke-linecap="round"/>
<path d="M643.8,308 L643.8,330 Q642.8,325.5 638.8,334.5 Q636.8,341.5 643.8,342.0 Q650.8,341.5 650.8,335.5" fill="none" stroke="#000" stroke-width="4" stroke-linecap="round"/>
<circle cx="643.8" cy="302" r="2.2" fill="#fff" stroke="#fff" stroke-width="1" />
<line x1="536.5" y1="290" x2="536.5" y2="361" stroke="#f00" stroke-width="1.2" stroke-dasharray="10,3"/>
<line x1="589.6" y1="260" x2="589.6" y2="372" stroke="#f00" stroke-width="1.2" stroke-dasharray="10,3"/>
<line x1="643.8" y1="300" x2="643.8" y2="345" stroke="#f00" stroke-width="1.2" stroke-dasharray="10,3"/>
<line x1="515" y1="336.5" x2="714" y2="336.5" stroke="#f00" stroke-width="1" stroke-dasharray="22,4,4,4"/>
<line x1="537.7" y1="316.2" x2="589.6" y2="316.2" stroke="#0ff" stroke-width="1" />
<rect x="561" y="314.5" width="3" height="3" fill="#0ff" />
</g>
<g>
<line x1="317.6" y1="98" x2="317.6" y2="103" stroke="#fff" stroke-width="1" />
<line x1="315" y1="103" x2="320" y2="103" stroke="#fff" stroke-width="1" />
<line x1="317" y1="103" x2="338" y2="148.6" stroke="#fff" stroke-width="1" />
<line x1="363" y1="87.5" x2="381" y2="87.5" stroke="#fff" stroke-width="1" />
<line x1="363" y1="87.5" x2="348" y2="135" stroke="#fff" stroke-width="1" />
<line x1="385" y1="87.5" x2="391.5" y2="87.5" stroke="#fff" stroke-width="1" />
<line x1="385" y1="87.5" x2="363" y2="143" stroke="#fff" stroke-width="1" />
<line x1="406" y1="87.5" x2="411" y2="87.5" stroke="#fff" stroke-width="1" />
<line x1="406" y1="87.5" x2="398" y2="143" stroke="#fff" stroke-width="1" />
<line x1="437" y1="87.2" x2="442" y2="87.2" stroke="#fff" stroke-width="1" />
<line x1="437" y1="87.2" x2="407" y2="139" stroke="#fff" stroke-width="1" />
<line x1="459.6" y1="87.2" x2="464.4" y2="87.2" stroke="#fff" stroke-width="1" />
<line x1="459.6" y1="87.2" x2="420.8" y2="143" stroke="#fff" stroke-width="1" />
<line x1="491.9" y1="87.2" x2="496.7" y2="87.2" stroke="#fff" stroke-width="1" />
<line x1="491.9" y1="87.2" x2="435.3" y2="150.7" stroke="#fff" stroke-width="1" />
<line x1="522.6" y1="87.2" x2="526.6" y2="87.2" stroke="#fff" stroke-width="1" />
<line x1="522.6" y1="87.2" x2="458.8" y2="150.7" stroke="#fff" stroke-width="1" />
<line x1="547.6" y1="87.2" x2="552.5" y2="87.2" stroke="#fff" stroke-width="1" />
<line x1="547.6" y1="87.2" x2="491.9" y2="152.3" stroke="#fff" stroke-width="1" />
<line x1="591.2" y1="87" x2="596.2" y2="87" stroke="#fff" stroke-width="1" />
<line x1="591.2" y1="87" x2="581.2" y2="110.7" stroke="#fff" stroke-width="1" />
<line x1="620" y1="87" x2="626" y2="87" stroke="#fff" stroke-width="1" />
<line x1="620" y1="87" x2="583.7" y2="129.4" stroke="#fff" stroke-width="1" />
<line x1="648.6" y1="87" x2="654.8" y2="87" stroke="#fff" stroke-width="1" />
<line x1="648.6" y1="87" x2="595" y2="140.6" stroke="#fff" stroke-width="1" />
<rect x="369" y="84" width="2" height="1.5" fill="#558" />
<rect x="375" y="84" width="2" height="1.5" fill="#558" />
<rect x="389" y="84" width="2" height="1.5" fill="#558" />
<rect x="408" y="84" width="2" height="1.5" fill="#558" />
<rect x="439" y="84" width="2" height="1.5" fill="#558" />
<rect x="461" y="84" width="2" height="1.5" fill="#558" />
<rect x="493" y="84" width="2" height="1.5" fill="#558" />
<rect x="524" y="84" width="2" height="1.5" fill="#558" />
<rect x="549" y="84" width="2" height="1.5" fill="#558" />
<rect x="593" y="84" width="2" height="1.5" fill="#558" />
<rect x="622" y="84" width="2" height="1.5" fill="#558" />
<rect x="650" y="84" width="2" height="1.5" fill="#558" />
<line x1="652.3" y1="113.2" x2="657.3" y2="113.2" stroke="#fff" stroke-width="1" />
<line x1="652.3" y1="113.2" x2="595" y2="143.1" stroke="#fff" stroke-width="1" />
<path d="M654,109h1v2h-1zM655,109h1v3h-1zM656,109h1v3h-1z" fill="#557"/>
<line x1="652.3" y1="128.1" x2="657.3" y2="128.1" stroke="#fff" stroke-width="1" />
<line x1="652.3" y1="128.1" x2="596.2" y2="151.8" stroke="#fff" stroke-width="1" />
<path d="M654,124h1v3h-1zM655,124h1v1h-1zM655,126h1v1h-1zM656,124h1v1h-1z" fill="#557"/>
<line x1="652.3" y1="138.9" x2="657.3" y2="138.9" stroke="#fff" stroke-width="1" />
<line x1="652.3" y1="138.9" x2="596.2" y2="155.6" stroke="#fff" stroke-width="1" />
<path d="M654,134h1v2h-1zM655,134h1v1h-1zM655,136h1v1h-1zM656,134h1v3h-1z" fill="#557"/>
<line x1="652.3" y1="161.3" x2="657.3" y2="161.3" stroke="#fff" stroke-width="1" />
<line x1="652.3" y1="161.3" x2="593.7" y2="173" stroke="#fff" stroke-width="1" />
<path d="M654,158h1v2h-1zM655,158h1v2h-1zM656,157h1v3h-1z" fill="#557"/>
<line x1="652.3" y1="190.5" x2="657.3" y2="190.5" stroke="#fff" stroke-width="1" />
<line x1="652.3" y1="190.5" x2="596.2" y2="209.2" stroke="#fff" stroke-width="1" />
<path d="M654,187h1v2h-1zM655,186h1v3h-1zM656,188h1v1h-1z" fill="#557"/>
<line x1="593.7" y1="210.4" x2="652.3" y2="219.2" stroke="#fff" stroke-width="1" />
<path d="M651,215h1v2h-1zM651,218h1v1h-1zM652,215h1v1h-1zM652,217h1v2h-1zM653,216h1v3h-1zM654,215h1v1h-1zM654,217h1v1h-1zM655,215h1v4h-1z" fill="#fff"/>
<rect x="651" y="219" width="6" height="1" fill="#fff"/>
<line x1="597.8" y1="228.8" x2="657" y2="239.8" stroke="#fff" stroke-width="1" />
<path d="M653,236h1v1h-1zM653,239h1v1h-1zM654,236h1v4h-1zM655,238h1v2h-1zM656,236h1v4h-1zM657,236h1v2h-1zM657,239h1v1h-1z" fill="#fff"/>
<rect x="653" y="240" width="6" height="1" fill="#fff"/>
<line x1="455" y1="215" x2="532.7" y2="198.3" stroke="#fff" stroke-width="1" />
<path d="M450,212h1v2h-1zM450,215h1v1h-1zM451,212h1v2h-1zM452,213h1v3h-1zM453,214h1v2h-1zM454,212h1v4h-1z" fill="#fff"/>
<rect x="450" y="216" width="6" height="1" fill="#fff"/>
<line x1="455" y1="233" x2="531.4" y2="226" stroke="#fff" stroke-width="1" />
<path d="M450,230h1v4h-1zM451,230h1v1h-1zM451,232h1v2h-1zM452,230h1v3h-1zM453,233h1v1h-1zM454,230h1v4h-1z" fill="#fff"/>
<rect x="450" y="234" width="6" height="1" fill="#fff"/>
<line x1="455" y1="253.7" x2="528.6" y2="231.5" stroke="#fff" stroke-width="1" />
<path d="M450,251h1v4h-1zM451,251h1v4h-1zM452,251h1v2h-1zM452,254h1v1h-1zM453,251h1v4h-1zM454,251h1v1h-1zM454,254h1v1h-1z" fill="#fff"/>
<rect x="450" y="254" width="6" height="1" fill="#fff"/>
<line x1="455" y1="275.8" x2="542.4" y2="244" stroke="#fff" stroke-width="1" />
<path d="M450,273h1v4h-1zM451,273h1v1h-1zM451,275h1v2h-1zM452,274h1v3h-1zM453,273h1v2h-1zM454,273h1v4h-1z" fill="#fff"/>
<rect x="450" y="276" width="6" height="1" fill="#fff"/>
<line x1="455" y1="292.4" x2="530" y2="264.7" stroke="#fff" stroke-width="1" />
<path d="M450,290h1v1h-1zM450,292h1v1h-1zM451,289h1v1h-1zM452,291h1v2h-1zM453,289h1v4h-1zM454,289h1v3h-1z" fill="#fff"/>
<rect x="450" y="293" width="6" height="1" fill="#fff"/>
<line x1="535.4" y1="297.3" x2="489.2" y2="375.7" stroke="#fff" stroke-width="1" />
<path d="M487,372h1v1h-1zM488,372h1v4h-1zM489,372h1v2h-1zM490,372h1v2h-1zM490,375h1v1h-1zM491,372h1v1h-1z" fill="#fff"/>
<rect x="487" y="375" width="6" height="1" fill="#fff"/>
<line x1="561.9" y1="295" x2="593" y2="375" stroke="#fff" stroke-width="1" />
<path d="M591,371h1v2h-1zM591,374h1v1h-1zM592,373h1v2h-1zM593,372h1v3h-1zM594,371h1v1h-1zM594,374h1v1h-1zM595,373h1v2h-1z" fill="#fff"/>
<rect x="591" y="375" width="6" height="1" fill="#fff"/>
<line x1="604.6" y1="291" x2="633.4" y2="375" stroke="#fff" stroke-width="1" />
<path d="M631,371h1v3h-1zM632,371h1v2h-1zM632,374h1v1h-1zM633,373h1v2h-1zM634,371h1v4h-1zM635,371h1v2h-1zM635,374h1v1h-1z" fill="#fff"/>
<rect x="631" y="375" width="6" height="1" fill="#fff"/>
<line x1="650.7" y1="304" x2="668" y2="375" stroke="#fff" stroke-width="1" />
<path d="M666,371h1v2h-1zM666,374h1v1h-1zM667,372h1v3h-1zM668,371h1v4h-1zM669,372h1v3h-1zM670,371h1v4h-1z" fill="#fff"/>
<rect x="666" y="375" width="6" height="1" fill="#fff"/>
<path d="M432,372h1v3h-1zM433,371h1v1h-1zM433,373h1v2h-1zM434,373h1v2h-1zM435,371h1v4h-1zM436,371h1v2h-1zM436,374h1v1h-1z" fill="#fff"/>
<rect x="432" y="375" width="6" height="1" fill="#fff"/>
<polyline points="680.7,300 680.7,111.4 784.5,111.4 784.5,271" fill="none" stroke="#fff" stroke-width="1" />
<rect x="719" y="109.3" width="27.7" height="2.1" fill="#000" stroke="#fff" stroke-width="1" />
<line x1="732.4" y1="106" x2="732.4" y2="116" stroke="#fff" stroke-width="1" />
<line x1="680.7" y1="125" x2="692" y2="111.4" stroke="#fff" stroke-width="1" />
<line x1="774" y1="111.4" x2="784.5" y2="121" stroke="#fff" stroke-width="1" />
<circle cx="683.8" cy="114.5" r="1.5" fill="none" stroke="#fff" stroke-width="1" />
<circle cx="781.5" cy="114.5" r="1.5" fill="none" stroke="#fff" stroke-width="1" />
<line x1="784.5" y1="116" x2="816.3" y2="146" stroke="#fff" stroke-width="1" />
<line x1="816.3" y1="146" x2="821.4" y2="146" stroke="#fff" stroke-width="1" />
<circle cx="732.4" cy="164.6" r="31.9" fill="none" stroke="#fff" stroke-width="1" />
<circle cx="732.4" cy="164.6" r="29.9" fill="none" stroke="#fff" stroke-width="1" />
<circle cx="732.4" cy="164.6" r="21" fill="none" stroke="#fff" stroke-width="1" />
<circle cx="732.4" cy="164.6" r="13.3" fill="none" stroke="#fff" stroke-width="1" />
<circle cx="732.4" cy="164.6" r="7.7" fill="none" stroke="#fff" stroke-width="1" />
<circle cx="732.4" cy="164.6" r="4.1" fill="none" stroke="#fff" stroke-width="1" />
<circle cx="732.4" cy="164.6" r="25.6" fill="none" stroke="#f00" stroke-width="1.2" stroke-dasharray="10,3"/>
<circle cx="732.4" cy="139.0" r="2.2" fill="#000" stroke="#fff" stroke-width="1" />
<circle cx="754.5702503368816" cy="151.79999999999998" r="2.2" fill="#000" stroke="#fff" stroke-width="1" />
<circle cx="754.5702503368816" cy="177.4" r="2.2" fill="#000" stroke="#fff" stroke-width="1" />
<circle cx="732.4" cy="190.2" r="2.2" fill="#000" stroke="#fff" stroke-width="1" />
<circle cx="710.2297496631184" cy="177.4" r="2.2" fill="#000" stroke="#fff" stroke-width="1" />
<circle cx="710.2297496631184" cy="151.79999999999998" r="2.2" fill="#000" stroke="#fff" stroke-width="1" />
<polyline points="740.6,135.5 758,135.5 758,147" fill="none" stroke="#fff" stroke-width="1" />
<line x1="680.7" y1="164.6" x2="784" y2="164.6" stroke="#f00" stroke-width="1" />
<line x1="732.4" y1="123.6" x2="732.4" y2="208" stroke="#f00" stroke-width="1" />
<line x1="730.5" y1="197" x2="730.5" y2="208" stroke="#fff" stroke-width="1" />
<line x1="734.5" y1="197" x2="734.5" y2="208" stroke="#fff" stroke-width="1" />
<circle cx="732.7" cy="224" r="15.9" fill="none" stroke="#fff" stroke-width="1" />
<circle cx="732.7" cy="224" r="10.4" fill="none" stroke="#fff" stroke-width="1" />
<circle cx="732.7" cy="224" r="13" fill="none" stroke="#f00" stroke-width="1" />
<circle cx="732.7" cy="211.0" r="1.4" fill="#000" stroke="#fff" stroke-width="1" />
<circle cx="743.9583302491977" cy="217.5" r="1.4" fill="#000" stroke="#fff" stroke-width="1" />
<circle cx="743.9583302491977" cy="230.5" r="1.4" fill="#000" stroke="#fff" stroke-width="1" />
<circle cx="732.7" cy="237.0" r="1.4" fill="#000" stroke="#fff" stroke-width="1" />
<circle cx="721.4416697508024" cy="230.5" r="1.4" fill="#000" stroke="#fff" stroke-width="1" />
<circle cx="721.4416697508024" cy="217.5" r="1.4" fill="#000" stroke="#fff" stroke-width="1" />
<line x1="703.4" y1="224" x2="763.4" y2="224" stroke="#f00" stroke-width="1" />
<line x1="732.7" y1="205" x2="732.7" y2="300" stroke="#f00" stroke-width="1.2" stroke-dasharray="12,3"/>
<line x1="730.7" y1="240" x2="730.7" y2="264" stroke="#fff" stroke-width="1" />
<line x1="734.7" y1="240" x2="734.7" y2="264" stroke="#fff" stroke-width="1" />
<circle cx="732.7" cy="277" r="12.8" fill="none" stroke="#fff" stroke-width="1" />
<circle cx="732.7" cy="277" r="5" fill="none" stroke="#fff" stroke-width="1" />
<circle cx="739.063961030679" cy="270.6360389693211" r="1" fill="#000" stroke="#fff" stroke-width="1" />
<circle cx="739.063961030679" cy="283.3639610306789" r="1" fill="#000" stroke="#fff" stroke-width="1" />
<circle cx="726.3360389693211" cy="283.3639610306789" r="1" fill="#000" stroke="#fff" stroke-width="1" />
<circle cx="726.3360389693211" cy="270.6360389693211" r="1" fill="#000" stroke="#fff" stroke-width="1" />
<line x1="680.7" y1="277.3" x2="809.6" y2="277.3" stroke="#f00" stroke-width="1" stroke-dasharray="24,4,4,4"/>
<line x1="716.5" y1="277" x2="748.5" y2="277" stroke="#fff" stroke-width="1" />
<rect x="722" y="289.4" width="18.7" height="8" fill="#000" stroke="#fff" stroke-width="1" />
<line x1="727" y1="289" x2="727" y2="297" stroke="#fff" stroke-width="1" />
<line x1="736" y1="289" x2="736" y2="297" stroke="#fff" stroke-width="1" />
<line x1="713" y1="293.4" x2="751" y2="293.4" stroke="#f00" stroke-width="1" />
<polygon points="783,272.6 794.2,284.3 783,296.6 784,302 775,302" fill="#ff0" />
<line x1="781" y1="281" x2="789" y2="276" stroke="#000" stroke-width="1.5" />
<line x1="785" y1="287" x2="792" y2="282" stroke="#000" stroke-width="1.5" />
<line x1="789" y1="293" x2="795" y2="288" stroke="#000" stroke-width="1.5" />
<line x1="784.5" y1="271" x2="775" y2="300" stroke="#fff" stroke-width="1.2" />
<line x1="783" y1="290.2" x2="792" y2="279" stroke="#fff" stroke-width="2" />
<line x1="815.5" y1="264.6" x2="821.9" y2="264.6" stroke="#fff" stroke-width="1" />
<line x1="815.5" y1="264.6" x2="792" y2="277.4" stroke="#fff" stroke-width="1" />
<rect x="816" y="257.6" width="2" height="3" fill="#558" />
<line x1="815.5" y1="274.5" x2="821.9" y2="274.5" stroke="#fff" stroke-width="1" />
<line x1="815.5" y1="274.5" x2="786.7" y2="292.9" stroke="#fff" stroke-width="1" />
<rect x="816" y="267.5" width="2" height="3" fill="#558" />
<line x1="815.5" y1="284.3" x2="821.9" y2="284.3" stroke="#fff" stroke-width="1" />
<line x1="815.5" y1="284.3" x2="787.7" y2="294" stroke="#fff" stroke-width="1" />
<rect x="816" y="277.3" width="2" height="3" fill="#558" />
<line x1="671" y1="299.5" x2="794.7" y2="299.5" stroke="#fff" stroke-width="1" />
<rect x="671.5" y="302.5" width="125" height="5" fill="#000" stroke="#fff" stroke-width="1" />
<circle cx="788.8" cy="298" r="3" fill="#000" stroke="#fff" stroke-width="1" />
<circle cx="676.7" cy="298" r="2.5" fill="#000" stroke="#fff" stroke-width="1" />
<line x1="732.4" y1="300" x2="732.4" y2="307" stroke="#fff" stroke-width="1" />
<path d="M676.7,308 L676.7,330 Q675.7,323.5 671.7,332.5 Q669.7,339.5 676.7,340.0 Q683.7,339.5 683.7,333.5" fill="none" stroke="#fff" stroke-width="6" stroke-linecap="round"/>
<path d="M676.7,308 L676.7,330 Q675.7,323.5 671.7,332.5 Q669.7,339.5 676.7,340.0 Q683.7,339.5 683.7,333.5" fill="none" stroke="#000" stroke-width="4" stroke-linecap="round"/>
<path d="M787.4,308 L787.4,330 Q786.4,323.5 782.4,332.5 Q780.4,339.5 787.4,340.0 Q794.4,339.5 794.4,333.5" fill="none" stroke="#fff" stroke-width="6" stroke-linecap="round"/>
<path d="M787.4,308 L787.4,330 Q786.4,323.5 782.4,332.5 Q780.4,339.5 787.4,340.0 Q794.4,339.5 794.4,333.5" fill="none" stroke="#000" stroke-width="4" stroke-linecap="round"/>
<line x1="788.5" y1="300" x2="788.5" y2="322" stroke="#f00" stroke-width="1" />
<line x1="670" y1="336" x2="714" y2="336" stroke="#f00" stroke-width="1" stroke-dasharray="6,4,30,4"/>
<line x1="831.5" y1="336" x2="831.5" y2="345" stroke="#0ff" stroke-width="1" />
</g>
<g shape-rendering="crispEdges">
<rect x="472.6" y="401" width="239.10000000000002" height="1" fill="#0ff" />
<rect x="472.6" y="406" width="239.10000000000002" height="1" fill="#0ff" />
<rect x="472.6" y="412" width="239.10000000000002" height="1" fill="#0ff" />
<rect x="472.6" y="417" width="239.10000000000002" height="1" fill="#0ff" />
<rect x="472.6" y="422" width="239.10000000000002" height="1" fill="#0ff" />
<rect x="472.6" y="427" width="239.10000000000002" height="1" fill="#0ff" />
<rect x="472.6" y="433" width="239.10000000000002" height="1" fill="#0ff" />
<rect x="472.6" y="438" width="239.10000000000002" height="1" fill="#0ff" />
<rect x="472.6" y="443" width="239.10000000000002" height="1" fill="#0ff" />
<rect x="472.6" y="448" width="239.10000000000002" height="1" fill="#0ff" />
<rect x="472.6" y="454" width="239.10000000000002" height="1" fill="#0ff" />
<rect x="472.6" y="459" width="239.10000000000002" height="1" fill="#0ff" />
<rect x="472.6" y="395" width="239.1" height="1" fill="#fff" />
<rect x="482" y="396" width="1" height="68" fill="#0ff" />
<rect x="506" y="396" width="1" height="68" fill="#0ff" />
<rect x="530" y="396" width="1" height="68" fill="#0ff" />
<rect x="540" y="396" width="1" height="68" fill="#0ff" />
<rect x="559" y="396" width="1" height="68" fill="#0ff" />
<rect x="602" y="396" width="1" height="68" fill="#0ff" />
<rect x="626" y="396" width="1" height="68" fill="#0ff" />
<rect x="649" y="396" width="1" height="68" fill="#0ff" />
<rect x="659" y="396" width="1" height="68" fill="#0ff" />
<rect x="678" y="396" width="1" height="68" fill="#0ff" />
<rect x="473" y="395" width="1" height="69" fill="#fff" />
<rect x="593" y="395" width="1" height="69" fill="#fff" />
<path d="M474,397h1v1h-1zM474,399h1v1h-1zM475,397h1v1h-1zM475,399h1v1h-1zM476,397h1v3h-1zM477,397h1v3h-1zM478,397h1v3h-1zM479,397h1v3h-1z" fill="#fff"/>
<path d="M594,397h1v2h-1zM595,397h1v1h-1zM595,399h1v1h-1zM596,397h1v1h-1zM596,399h1v1h-1zM597,397h1v3h-1zM598,397h1v3h-1zM599,397h1v3h-1z" fill="#fff"/>
<path d="M488,397h1v3h-1zM489,397h1v3h-1zM490,398h1v1h-1z" fill="#0ff"/>
<path d="M492,397h1v3h-1zM493,397h1v3h-1zM494,397h1v1h-1zM494,399h1v1h-1z" fill="#0ff"/>
<path d="M496,397h1v2h-1zM497,397h1v3h-1zM498,397h1v3h-1z" fill="#0ff"/>
<path d="M607,397h1v1h-1zM607,399h1v1h-1zM608,398h1v1h-1zM609,397h1v1h-1zM609,399h1v1h-1z" fill="#0ff"/>
<path d="M611,397h1v2h-1zM612,397h1v3h-1zM613,397h1v3h-1zM614,397h1v3h-1z" fill="#0ff"/>
<path d="M616,397h1v3h-1zM617,397h1v3h-1zM618,397h1v3h-1z" fill="#0ff"/>
<path d="M629,398h1v2h-1zM630,397h1v1h-1zM630,399h1v1h-1zM631,398h1v2h-1z" fill="#0ff"/>
<path d="M633,398h1v2h-1zM634,399h1v1h-1zM635,399h1v1h-1zM636,397h1v3h-1z" fill="#0ff"/>
<path d="M638,397h1v2h-1zM639,397h1v3h-1z" fill="#0ff"/>
<path d="M653,397h1v3h-1zM654,397h1v3h-1zM655,397h1v1h-1z" fill="#0ff"/>
<path d="M660,397h1v2h-1zM661,397h1v3h-1zM662,397h1v3h-1zM663,397h1v3h-1z" fill="#0ff"/>
<path d="M664,397h1v3h-1zM665,397h1v3h-1zM666,397h1v3h-1z" fill="#0ff"/>
<path d="M669,398h1v2h-1zM670,398h1v1h-1zM671,397h1v2h-1z" fill="#0ff"/>
<path d="M674,398h1v1h-1zM675,398h1v2h-1zM676,397h1v1h-1z" fill="#0ff"/>
<path d="M474,402h1v3h-1zM475,402h1v3h-1zM476,402h1v3h-1zM477,402h1v3h-1zM478,402h1v3h-1zM479,402h1v3h-1z" fill="#fff"/>
<path d="M594,402h1v3h-1zM595,402h1v3h-1zM596,402h1v3h-1zM597,402h1v3h-1zM598,403h1v2h-1zM599,402h1v3h-1z" fill="#fff"/>
<path d="M488,402h1v3h-1zM489,402h1v3h-1zM490,402h1v3h-1z" fill="#0ff"/>
<path d="M492,402h1v3h-1zM493,402h1v3h-1zM494,402h1v3h-1z" fill="#0ff"/>
<path d="M496,402h1v1h-1zM496,404h1v1h-1zM497,404h1v1h-1zM498,402h1v2h-1z" fill="#0ff"/>
<path d="M607,402h1v3h-1zM608,403h1v2h-1zM609,402h1v2h-1z" fill="#0ff"/>
<path d="M611,402h1v1h-1zM611,404h1v1h-1zM612,403h1v2h-1zM613,403h1v2h-1zM614,402h1v3h-1z" fill="#0ff"/>
<path d="M616,402h1v3h-1zM617,402h1v1h-1zM617,404h1v1h-1zM618,402h1v1h-1zM618,404h1v1h-1z" fill="#0ff"/>
<path d="M654,402h1v3h-1zM655,404h1v1h-1z" fill="#0ff"/>
<path d="M660,402h1v3h-1zM661,402h1v1h-1zM661,404h1v1h-1zM662,403h1v2h-1zM663,402h1v3h-1z" fill="#0ff"/>
<path d="M665,402h1v1h-1zM666,402h1v1h-1zM666,404h1v1h-1zM667,403h1v1h-1z" fill="#0ff"/>
<path d="M669,402h1v3h-1zM670,403h1v2h-1zM671,402h1v2h-1z" fill="#0ff"/>
<path d="M674,403h1v1h-1zM675,402h1v3h-1zM676,402h1v3h-1z" fill="#0ff"/>
<path d="M474,409h1v2h-1zM475,410h1v1h-1zM476,408h1v3h-1zM477,408h1v3h-1zM478,408h1v3h-1zM479,408h1v3h-1z" fill="#fff"/>
<path d="M594,408h1v3h-1zM595,408h1v2h-1zM596,408h1v3h-1zM597,408h1v3h-1zM598,408h1v3h-1zM599,409h1v2h-1z" fill="#fff"/>
<path d="M488,408h1v3h-1zM489,409h1v2h-1zM490,408h1v2h-1z" fill="#0ff"/>
<path d="M492,408h1v1h-1zM493,408h1v3h-1zM494,408h1v2h-1z" fill="#0ff"/>
<path d="M496,408h1v3h-1zM497,408h1v3h-1zM498,408h1v2h-1z" fill="#0ff"/>
<path d="M607,408h1v3h-1zM608,408h1v3h-1zM609,408h1v3h-1z" fill="#0ff"/>
<path d="M611,408h1v3h-1zM612,408h1v3h-1zM613,408h1v1h-1zM613,410h1v1h-1zM614,409h1v2h-1z" fill="#0ff"/>
<path d="M616,408h1v1h-1zM616,410h1v1h-1zM617,408h1v3h-1zM618,408h1v3h-1z" fill="#0ff"/>
<path d="M629,410h1v1h-1zM630,408h1v3h-1zM631,409h1v1h-1z" fill="#0ff"/>
<path d="M633,409h1v2h-1zM634,409h1v1h-1zM635,408h1v2h-1zM636,408h1v1h-1zM636,410h1v1h-1z" fill="#0ff"/>
<path d="M638,408h1v3h-1zM639,410h1v1h-1zM640,408h1v2h-1z" fill="#0ff"/>
<path d="M660,408h1v3h-1zM661,408h1v1h-1zM663,408h1v2h-1z" fill="#0ff"/>
<path d="M664,409h1v1h-1zM665,408h1v3h-1zM666,408h1v3h-1zM667,408h1v1h-1zM667,410h1v1h-1z" fill="#0ff"/>
<path d="M669,409h1v2h-1zM670,410h1v1h-1zM671,408h1v3h-1z" fill="#0ff"/>
<path d="M674,409h1v2h-1zM675,409h1v2h-1zM676,410h1v1h-1z" fill="#0ff"/>
<path d="M474,413h1v2h-1zM475,413h1v3h-1zM476,413h1v2h-1zM477,413h1v3h-1zM478,413h1v3h-1zM479,413h1v1h-1zM479,415h1v1h-1z" fill="#fff"/>
<path d="M594,414h1v2h-1zM595,413h1v1h-1zM596,413h1v3h-1zM597,413h1v1h-1zM597,415h1v1h-1zM598,413h1v3h-1zM599,413h1v3h-1z" fill="#fff"/>
<path d="M488,413h1v3h-1zM489,413h1v3h-1zM490,413h1v3h-1z" fill="#0ff"/>
<path d="M492,413h1v2h-1zM493,415h1v1h-1zM494,413h1v3h-1z" fill="#0ff"/>
<path d="M496,413h1v3h-1zM497,413h1v3h-1zM498,413h1v3h-1z" fill="#0ff"/>
<path d="M607,413h1v1h-1zM607,415h1v1h-1zM608,413h1v3h-1zM609,413h1v3h-1z" fill="#0ff"/>
<path d="M611,413h1v1h-1zM611,415h1v1h-1zM612,413h1v2h-1zM613,413h1v2h-1zM614,413h1v1h-1zM614,415h1v1h-1z" fill="#0ff"/>
<path d="M616,413h1v1h-1zM617,414h1v2h-1zM618,413h1v2h-1z" fill="#0ff"/>
<path d="M629,413h1v1h-1zM629,415h1v1h-1zM630,414h1v2h-1zM631,415h1v1h-1z" fill="#0ff"/>
<path d="M633,413h1v3h-1zM634,413h1v3h-1zM635,413h1v2h-1zM636,413h1v3h-1z" fill="#0ff"/>
<path d="M638,414h1v2h-1zM639,413h1v1h-1zM639,415h1v1h-1zM640,413h1v3h-1z" fill="#0ff"/>
<path d="M653,415h1v1h-1zM654,413h1v1h-1zM654,415h1v1h-1zM655,413h1v2h-1z" fill="#0ff"/>
<path d="M660,413h1v3h-1zM661,413h1v1h-1zM662,413h1v2h-1zM663,413h1v2h-1z" fill="#0ff"/>
<path d="M664,413h1v1h-1zM664,415h1v1h-1zM665,414h1v2h-1zM666,413h1v3h-1zM667,414h1v2h-1z" fill="#0ff"/>
<path d="M669,413h1v3h-1zM670,413h1v2h-1zM671,413h1v2h-1z" fill="#0ff"/>
<path d="M674,414h1v2h-1zM675,415h1v1h-1zM676,413h1v1h-1zM676,415h1v1h-1z" fill="#0ff"/>
<path d="M474,419h1v2h-1zM475,418h1v3h-1zM476,418h1v3h-1zM477,418h1v3h-1zM478,418h1v3h-1zM479,418h1v3h-1z" fill="#fff"/>
<path d="M594,418h1v3h-1zM595,418h1v3h-1zM596,418h1v3h-1zM597,418h1v3h-1zM598,418h1v3h-1zM599,418h1v3h-1z" fill="#fff"/>
<path d="M488,418h1v3h-1zM489,418h1v3h-1zM490,418h1v3h-1z" fill="#0ff"/>
<path d="M492,418h1v3h-1zM493,418h1v3h-1zM494,418h1v3h-1z" fill="#0ff"/>
<path d="M496,418h1v3h-1zM497,418h1v1h-1zM497,420h1v1h-1zM498,420h1v1h-1z" fill="#0ff"/>
<path d="M607,419h1v1h-1zM608,418h1v1h-1zM609,418h1v2h-1z" fill="#0ff"/>
<path d="M611,418h1v3h-1zM612,418h1v1h-1zM612,420h1v1h-1zM613,419h1v2h-1zM614,419h1v2h-1z" fill="#0ff"/>
<path d="M616,418h1v3h-1zM617,418h1v2h-1zM618,418h1v1h-1zM618,420h1v1h-1z" fill="#0ff"/>
<path d="M474,423h1v3h-1zM475,423h1v3h-1zM476,423h1v3h-1zM477,423h1v1h-1zM477,425h1v1h-1zM478,423h1v3h-1zM479,424h1v2h-1z" fill="#fff"/>
<path d="M594,423h1v3h-1zM595,423h1v3h-1zM596,423h1v2h-1zM597,423h1v3h-1zM598,423h1v3h-1zM599,423h1v3h-1z" fill="#fff"/>
<path d="M488,424h1v2h-1zM489,423h1v3h-1zM490,423h1v3h-1z" fill="#0ff"/>
<path d="M492,423h1v3h-1zM493,423h1v3h-1zM494,423h1v1h-1zM494,425h1v1h-1z" fill="#0ff"/>
<path d="M496,423h1v3h-1zM497,424h1v2h-1zM498,423h1v3h-1z" fill="#0ff"/>
<path d="M607,423h1v3h-1zM608,423h1v1h-1zM608,425h1v1h-1zM609,423h1v1h-1zM609,425h1v1h-1z" fill="#0ff"/>
<path d="M611,423h1v3h-1zM612,423h1v3h-1zM613,423h1v1h-1zM613,425h1v1h-1zM614,423h1v3h-1z" fill="#0ff"/>
<path d="M616,423h1v1h-1zM616,425h1v1h-1zM617,423h1v3h-1zM618,424h1v2h-1z" fill="#0ff"/>
<path d="M629,423h1v1h-1zM630,423h1v1h-1zM630,425h1v1h-1zM631,423h1v3h-1z" fill="#0ff"/>
<path d="M633,423h1v2h-1zM635,423h1v3h-1zM636,424h1v2h-1z" fill="#0ff"/>
<path d="M638,423h1v1h-1zM638,425h1v1h-1zM639,424h1v2h-1zM640,423h1v1h-1z" fill="#0ff"/>
<path d="M653,424h1v1h-1zM654,423h1v2h-1z" fill="#0ff"/>
<path d="M660,424h1v1h-1zM661,425h1v1h-1zM662,424h1v2h-1zM663,423h1v3h-1z" fill="#0ff"/>
<path d="M664,424h1v2h-1zM665,423h1v1h-1zM665,425h1v1h-1zM666,423h1v3h-1zM667,424h1v1h-1z" fill="#0ff"/>
<path d="M669,424h1v2h-1zM670,423h1v1h-1zM671,424h1v1h-1z" fill="#0ff"/>
<path d="M674,425h1v1h-1zM675,423h1v3h-1zM676,425h1v1h-1z" fill="#0ff"/>
<path d="M474,429h1v3h-1zM475,429h1v3h-1zM476,429h1v3h-1zM477,429h1v3h-1zM478,429h1v3h-1zM479,430h1v2h-1z" fill="#fff"/>
<path d="M594,429h1v3h-1zM595,429h1v3h-1zM596,429h1v3h-1zM597,429h1v3h-1zM598,429h1v3h-1zM599,429h1v1h-1zM599,431h1v1h-1z" fill="#fff"/>
<path d="M488,429h1v3h-1zM489,429h1v3h-1zM490,429h1v2h-1z" fill="#0ff"/>
<path d="M492,429h1v3h-1zM493,429h1v3h-1zM494,429h1v3h-1z" fill="#0ff"/>
<path d="M496,429h1v3h-1zM497,429h1v2h-1zM498,429h1v1h-1zM498,431h1v1h-1z" fill="#0ff"/>
<path d="M607,429h1v2h-1zM608,429h1v2h-1zM609,429h1v3h-1z" fill="#0ff"/>
<path d="M611,429h1v3h-1zM612,429h1v3h-1zM613,430h1v2h-1zM614,429h1v3h-1z" fill="#0ff"/>
<path d="M616,429h1v3h-1zM617,430h1v2h-1zM618,429h1v2h-1z" fill="#0ff"/>
<path d="M629,429h1v3h-1zM630,429h1v3h-1zM631,429h1v2h-1z" fill="#0ff"/>
<path d="M633,430h1v1h-1zM634,429h1v2h-1zM635,431h1v1h-1zM636,429h1v3h-1z" fill="#0ff"/>
<path d="M638,429h1v3h-1zM639,429h1v1h-1zM640,429h1v3h-1z" fill="#0ff"/>
<path d="M653,429h1v1h-1zM653,431h1v1h-1zM654,431h1v1h-1zM655,431h1v1h-1z" fill="#0ff"/>
<path d="M660,429h1v1h-1zM662,430h1v2h-1zM663,429h1v3h-1z" fill="#0ff"/>
<path d="M664,429h1v1h-1zM665,429h1v3h-1zM666,429h1v3h-1zM667,431h1v1h-1z" fill="#0ff"/>
<path d="M669,431h1v1h-1zM670,429h1v1h-1zM670,431h1v1h-1zM671,429h1v2h-1z" fill="#0ff"/>
<path d="M674,430h1v2h-1zM675,429h1v2h-1zM676,429h1v2h-1z" fill="#0ff"/>
<path d="M474,434h1v2h-1zM475,434h1v3h-1zM476,434h1v2h-1zM477,434h1v3h-1zM478,434h1v3h-1zM479,434h1v3h-1z" fill="#fff"/>
<path d="M594,434h1v3h-1zM595,435h1v2h-1zM596,434h1v3h-1zM597,434h1v3h-1zM598,434h1v3h-1zM599,434h1v1h-1zM599,436h1v1h-1z" fill="#fff"/>
<path d="M488,434h1v3h-1zM489,434h1v3h-1zM490,434h1v3h-1z" fill="#0ff"/>
<path d="M492,435h1v2h-1zM493,434h1v3h-1zM494,434h1v3h-1z" fill="#0ff"/>
<path d="M496,434h1v3h-1zM497,434h1v3h-1zM498,434h1v1h-1z" fill="#0ff"/>
<path d="M607,434h1v1h-1zM608,434h1v2h-1zM609,434h1v3h-1z" fill="#0ff"/>
<path d="M611,435h1v2h-1zM612,434h1v3h-1zM613,434h1v3h-1zM614,435h1v2h-1z" fill="#0ff"/>
<path d="M616,435h1v2h-1zM617,434h1v1h-1zM617,436h1v1h-1zM618,435h1v2h-1z" fill="#0ff"/>
<path d="M653,436h1v1h-1zM654,436h1v1h-1zM655,434h1v3h-1z" fill="#0ff"/>
<path d="M660,434h1v3h-1zM661,434h1v3h-1zM662,435h1v1h-1zM663,434h1v2h-1z" fill="#0ff"/>
<path d="M664,435h1v2h-1zM665,435h1v2h-1zM666,434h1v3h-1zM667,436h1v1h-1z" fill="#0ff"/>
<path d="M669,435h1v2h-1zM670,435h1v1h-1zM671,434h1v2h-1z" fill="#0ff"/>
<path d="M674,434h1v3h-1zM675,435h1v2h-1zM676,434h1v2h-1z" fill="#0ff"/>
<path d="M474,439h1v3h-1zM475,439h1v3h-1zM476,440h1v2h-1zM477,439h1v3h-1zM478,439h1v3h-1zM479,439h1v3h-1z" fill="#fff"/>
<path d="M594,439h1v3h-1zM595,439h1v2h-1zM596,439h1v3h-1zM597,440h1v2h-1zM598,439h1v3h-1zM599,439h1v3h-1z" fill="#fff"/>
<path d="M488,439h1v3h-1zM489,439h1v3h-1zM490,440h1v2h-1z" fill="#0ff"/>
<path d="M492,439h1v3h-1zM493,439h1v3h-1zM494,439h1v3h-1z" fill="#0ff"/>
<path d="M496,440h1v2h-1zM497,439h1v3h-1zM498,439h1v1h-1zM498,441h1v1h-1z" fill="#0ff"/>
<path d="M607,439h1v3h-1zM608,441h1v1h-1zM609,439h1v3h-1z" fill="#0ff"/>
<path d="M611,439h1v3h-1zM612,439h1v3h-1zM613,440h1v1h-1zM614,439h1v3h-1z" fill="#0ff"/>
<path d="M616,439h1v3h-1zM617,439h1v3h-1zM618,440h1v2h-1z" fill="#0ff"/>
<path d="M629,439h1v1h-1zM629,441h1v1h-1zM630,440h1v1h-1zM631,440h1v2h-1z" fill="#0ff"/>
<path d="M633,441h1v1h-1zM634,439h1v1h-1zM634,441h1v1h-1zM635,440h1v2h-1zM636,439h1v3h-1z" fill="#0ff"/>
<path d="M638,440h1v1h-1zM639,439h1v3h-1zM640,439h1v2h-1z" fill="#0ff"/>
<path d="M654,439h1v2h-1zM655,441h1v1h-1z" fill="#0ff"/>
<path d="M660,439h1v1h-1zM661,439h1v3h-1zM662,440h1v1h-1zM663,439h1v1h-1z" fill="#0ff"/>
<path d="M664,439h1v3h-1zM665,439h1v2h-1zM666,440h1v1h-1zM667,441h1v1h-1z" fill="#0ff"/>
<path d="M669,439h1v1h-1zM670,441h1v1h-1zM671,439h1v2h-1z" fill="#0ff"/>
<path d="M674,439h1v1h-1zM675,439h1v2h-1zM676,439h1v3h-1z" fill="#0ff"/>
<path d="M474,444h1v3h-1zM475,444h1v3h-1zM476,444h1v3h-1zM477,444h1v3h-1zM478,444h1v3h-1zM479,444h1v3h-1z" fill="#fff"/>
<path d="M594,444h1v3h-1zM595,444h1v2h-1zM596,444h1v3h-1zM597,444h1v3h-1zM598,444h1v3h-1zM599,444h1v1h-1zM599,446h1v1h-1z" fill="#fff"/>
<path d="M488,444h1v3h-1zM489,444h1v2h-1zM490,444h1v2h-1z" fill="#0ff"/>
<path d="M492,444h1v3h-1zM493,444h1v3h-1zM494,444h1v1h-1zM494,446h1v1h-1z" fill="#0ff"/>
<path d="M496,446h1v1h-1zM497,444h1v3h-1zM498,445h1v2h-1z" fill="#0ff"/>
<path d="M607,444h1v1h-1zM607,446h1v1h-1zM608,444h1v3h-1zM609,446h1v1h-1z" fill="#0ff"/>
<path d="M611,444h1v3h-1zM613,444h1v3h-1zM614,444h1v1h-1zM614,446h1v1h-1z" fill="#0ff"/>
<path d="M616,444h1v2h-1zM617,444h1v3h-1zM618,444h1v3h-1z" fill="#0ff"/>
<path d="M629,444h1v3h-1zM630,444h1v3h-1zM631,445h1v1h-1z" fill="#0ff"/>
<path d="M633,444h1v2h-1zM634,444h1v1h-1zM635,445h1v2h-1zM636,444h1v1h-1z" fill="#0ff"/>
<path d="M638,444h1v3h-1zM639,445h1v2h-1zM640,444h1v3h-1z" fill="#0ff"/>
<path d="M653,446h1v1h-1zM654,445h1v2h-1zM655,444h1v2h-1z" fill="#0ff"/>
<path d="M660,444h1v3h-1zM661,444h1v1h-1zM661,446h1v1h-1zM662,445h1v1h-1zM663,445h1v2h-1z" fill="#0ff"/>
<path d="M664,444h1v3h-1zM665,444h1v1h-1zM666,445h1v2h-1zM667,445h1v1h-1z" fill="#0ff"/>
<path d="M669,444h1v1h-1zM669,446h1v1h-1zM670,445h1v2h-1zM671,444h1v1h-1zM671,446h1v1h-1z" fill="#0ff"/>
<path d="M674,444h1v2h-1zM675,444h1v3h-1zM676,444h1v1h-1z" fill="#0ff"/>
<path d="M474,450h1v3h-1zM475,450h1v3h-1zM476,450h1v3h-1zM477,450h1v3h-1zM478,450h1v3h-1zM479,450h1v3h-1z" fill="#fff"/>
<path d="M594,450h1v3h-1zM595,450h1v2h-1zM596,450h1v3h-1zM597,450h1v3h-1zM598,450h1v3h-1zM599,450h1v3h-1z" fill="#fff"/>
<path d="M488,450h1v3h-1zM489,450h1v1h-1zM489,452h1v1h-1zM490,450h1v3h-1z" fill="#0ff"/>
<path d="M492,450h1v1h-1zM493,450h1v3h-1zM494,450h1v2h-1z" fill="#0ff"/>
<path d="M496,450h1v3h-1zM497,450h1v3h-1zM498,450h1v3h-1z" fill="#0ff"/>
<path d="M607,450h1v3h-1zM608,450h1v3h-1zM609,451h1v2h-1z" fill="#0ff"/>
<path d="M611,450h1v3h-1zM612,450h1v3h-1zM613,450h1v2h-1zM614,450h1v3h-1z" fill="#0ff"/>
<path d="M616,450h1v1h-1zM617,450h1v2h-1zM618,450h1v2h-1z" fill="#0ff"/>
<path d="M660,451h1v2h-1zM661,450h1v2h-1zM663,451h1v2h-1z" fill="#0ff"/>
<path d="M664,452h1v1h-1zM665,450h1v3h-1zM666,450h1v3h-1zM667,450h1v3h-1z" fill="#0ff"/>
<path d="M670,450h1v1h-1zM671,451h1v2h-1z" fill="#0ff"/>
<path d="M674,450h1v1h-1zM674,452h1v1h-1zM675,450h1v1h-1zM675,452h1v1h-1zM676,450h1v3h-1z" fill="#0ff"/>
<path d="M474,456h1v2h-1zM475,455h1v3h-1zM476,456h1v2h-1zM477,455h1v3h-1zM478,455h1v3h-1zM479,455h1v3h-1z" fill="#fff"/>
<path d="M594,455h1v3h-1zM595,455h1v3h-1zM596,455h1v3h-1zM597,455h1v3h-1zM598,455h1v3h-1zM599,455h1v3h-1z" fill="#fff"/>
<path d="M488,455h1v2h-1zM489,455h1v3h-1zM490,455h1v1h-1zM490,457h1v1h-1z" fill="#0ff"/>
<path d="M492,455h1v3h-1zM493,456h1v2h-1zM494,455h1v3h-1z" fill="#0ff"/>
<path d="M496,455h1v2h-1zM497,455h1v3h-1zM498,455h1v3h-1z" fill="#0ff"/>
<path d="M607,457h1v1h-1zM608,455h1v3h-1zM609,455h1v3h-1z" fill="#0ff"/>
<path d="M611,456h1v1h-1zM612,455h1v3h-1zM613,455h1v1h-1zM613,457h1v1h-1zM614,455h1v2h-1z" fill="#0ff"/>
<path d="M616,455h1v3h-1zM617,455h1v3h-1zM618,455h1v3h-1z" fill="#0ff"/>
<path d="M629,455h1v1h-1zM630,455h1v3h-1zM631,455h1v3h-1z" fill="#0ff"/>
<path d="M633,455h1v2h-1zM634,455h1v1h-1zM635,456h1v2h-1zM636,456h1v2h-1z" fill="#0ff"/>
<path d="M638,455h1v2h-1zM639,456h1v1h-1zM640,455h1v2h-1z" fill="#0ff"/>
<path d="M653,455h1v2h-1zM654,455h1v1h-1zM655,456h1v2h-1z" fill="#0ff"/>
<path d="M660,455h1v3h-1zM661,457h1v1h-1zM662,455h1v2h-1zM663,455h1v2h-1z" fill="#0ff"/>
<path d="M664,455h1v2h-1zM665,456h1v2h-1zM667,457h1v1h-1z" fill="#0ff"/>
<path d="M669,455h1v3h-1zM670,455h1v3h-1zM671,455h1v3h-1z" fill="#0ff"/>
<path d="M674,456h1v2h-1zM675,455h1v1h-1zM675,457h1v1h-1zM676,456h1v2h-1z" fill="#0ff"/>
<path d="M474,460h1v3h-1zM475,460h1v3h-1zM476,460h1v3h-1zM477,461h1v2h-1zM478,460h1v3h-1zM479,460h1v3h-1z" fill="#fff"/>
<path d="M594,460h1v3h-1zM595,460h1v3h-1zM596,460h1v3h-1zM597,460h1v3h-1zM598,460h1v1h-1zM598,462h1v1h-1zM599,460h1v3h-1z" fill="#fff"/>
<path d="M488,460h1v1h-1zM488,462h1v1h-1zM489,461h1v2h-1zM490,460h1v2h-1z" fill="#0ff"/>
<path d="M492,461h1v1h-1zM493,460h1v3h-1zM494,461h1v1h-1z" fill="#0ff"/>
<path d="M496,460h1v3h-1zM497,460h1v2h-1zM498,460h1v3h-1z" fill="#0ff"/>
<path d="M607,460h1v3h-1zM608,461h1v2h-1zM609,460h1v3h-1z" fill="#0ff"/>
<path d="M611,460h1v3h-1zM612,461h1v2h-1zM613,460h1v3h-1zM614,460h1v3h-1z" fill="#0ff"/>
<path d="M616,460h1v3h-1zM617,460h1v1h-1zM617,462h1v1h-1zM618,460h1v1h-1z" fill="#0ff"/>
<path d="M629,460h1v2h-1zM630,460h1v1h-1zM630,462h1v1h-1zM631,461h1v2h-1z" fill="#0ff"/>
<path d="M633,460h1v2h-1zM634,460h1v1h-1zM634,462h1v1h-1zM635,460h1v3h-1zM636,460h1v1h-1zM636,462h1v1h-1z" fill="#0ff"/>
<path d="M638,460h1v3h-1zM639,461h1v1h-1zM640,460h1v3h-1z" fill="#0ff"/>
<path d="M653,460h1v2h-1zM654,460h1v1h-1zM654,462h1v1h-1zM655,461h1v1h-1z" fill="#0ff"/>
<path d="M660,460h1v3h-1zM661,460h1v2h-1zM662,460h1v2h-1z" fill="#0ff"/>
<path d="M664,460h1v3h-1zM665,462h1v1h-1zM666,460h1v1h-1zM667,460h1v1h-1zM667,462h1v1h-1z" fill="#0ff"/>
<path d="M669,460h1v3h-1zM671,460h1v3h-1z" fill="#0ff"/>
<path d="M674,460h1v3h-1zM675,460h1v3h-1zM676,460h1v1h-1zM676,462h1v1h-1z" fill="#0ff"/>
<path d="M513,425h1v1h-1zM514,424h1v1h-1zM515,424h1v2h-1zM517,424h1v2h-1zM519,424h1v2h-1zM520,424h1v1h-1zM521,424h1v1h-1z" fill="#34c"/>
<rect x="534" y="424" width="1" height="3" fill="#34c" />
<path d="M513,430h1v1h-1zM514,430h1v1h-1zM516,429h1v2h-1zM517,430h1v1h-1zM520,430h1v1h-1zM521,429h1v1h-1z" fill="#34c"/>
<rect x="534" y="429" width="1" height="3" fill="#34c" />
<path d="M513,434h1v2h-1zM514,435h1v1h-1zM515,435h1v1h-1zM517,434h1v2h-1zM519,434h1v2h-1zM520,434h1v2h-1zM521,434h1v2h-1z" fill="#34c"/>
<rect x="534" y="434" width="1" height="3" fill="#34c" />
<path d="M513,440h1v2h-1zM515,440h1v2h-1zM516,440h1v2h-1zM517,441h1v1h-1zM518,440h1v1h-1zM519,440h1v2h-1zM520,440h1v1h-1zM521,440h1v1h-1z" fill="#34c"/>
<rect x="534" y="439" width="1" height="3" fill="#34c" />
<path d="M508,455h1v3h-1zM509,455h1v3h-1zM510,455h1v3h-1zM511,455h1v3h-1zM512,455h1v3h-1zM513,455h1v3h-1zM514,455h1v3h-1zM515,455h1v1h-1zM515,457h1v1h-1zM516,455h1v2h-1zM517,455h1v3h-1zM518,455h1v3h-1zM519,455h1v1h-1zM519,457h1v1h-1zM520,455h1v1h-1zM520,457h1v1h-1zM521,455h1v3h-1zM522,455h1v3h-1zM523,455h1v3h-1zM524,455h1v1h-1zM524,457h1v1h-1zM525,455h1v3h-1zM526,455h1v3h-1z" fill="#0ff"/>
<path d="M512,460h1v3h-1zM513,460h1v3h-1zM514,460h1v3h-1zM515,460h1v2h-1zM516,461h1v2h-1zM517,460h1v3h-1zM518,460h1v3h-1zM519,460h1v1h-1zM519,462h1v1h-1zM520,460h1v3h-1zM521,460h1v3h-1zM522,460h1v3h-1zM523,460h1v3h-1z" fill="#0ff"/>
<path d="M512,450h1v3h-1zM513,450h1v2h-1zM514,450h1v3h-1zM515,450h1v3h-1zM516,450h1v3h-1zM517,452h1v1h-1zM518,452h1v1h-1zM519,450h1v3h-1z" fill="#0ff"/>
<rect x="545" y="450" width="12" height="1" fill="#0ff" />
<path d="M547,455h1v3h-1zM548,456h1v2h-1zM549,455h1v3h-1zM550,455h1v3h-1zM551,455h1v3h-1zM552,455h1v3h-1zM553,455h1v3h-1zM554,455h1v3h-1z" fill="#0ff"/>
<rect x="541" y="463" width="17" height="1" fill="#0ff" />
<rect x="535" y="445" width="1" height="15" fill="#0ff" />
<rect x="711.7" y="351" width="120" height="1" fill="#0ff" />
<rect x="711.7" y="356" width="120" height="1" fill="#0ff" />
<rect x="711.7" y="362" width="120" height="1" fill="#0ff" />
<rect x="711.7" y="367" width="120" height="1" fill="#0ff" />
<rect x="711.7" y="372" width="120" height="1" fill="#0ff" />
<rect x="711.7" y="378" width="120" height="1" fill="#0ff" />
<rect x="711.7" y="383" width="120" height="1" fill="#0ff" />
<rect x="711.7" y="388" width="120" height="1" fill="#0ff" />
<rect x="711.7" y="394" width="120" height="1" fill="#0ff" />
<rect x="711.7" y="399" width="120" height="1" fill="#0ff" />
<rect x="711.7" y="404" width="120" height="1" fill="#0ff" />
<rect x="711.7" y="410" width="120" height="1" fill="#0ff" />
<rect x="711.7" y="415" width="120" height="1" fill="#0ff" />
<rect x="711.7" y="420" width="120" height="1" fill="#0ff" />
<rect x="711.7" y="345" width="120" height="1" fill="#fff" />
<rect x="711" y="345" width="1" height="119" fill="#fff" />
<rect x="722" y="346" width="1" height="81" fill="#0ff" />
<rect x="746" y="346" width="1" height="81" fill="#0ff" />
<rect x="769" y="346" width="1" height="81" fill="#0ff" />
<rect x="778" y="346" width="1" height="81" fill="#0ff" />
<rect x="799" y="346" width="1" height="81" fill="#0ff" />
<rect x="832" y="346" width="1" height="81" fill="#0ff" />
<rect x="711.7" y="427" width="120" height="1" fill="#fff" />
<path d="M714,347h1v2h-1zM715,347h1v3h-1zM716,347h1v3h-1zM717,347h1v3h-1zM718,347h1v3h-1zM719,347h1v3h-1z" fill="#fff"/>
<path d="M726,348h1v2h-1zM727,347h1v2h-1zM728,347h1v2h-1z" fill="#0ff"/>
<path d="M730,347h1v2h-1zM731,347h1v3h-1zM732,347h1v3h-1z" fill="#0ff"/>
<path d="M734,347h1v3h-1zM735,347h1v3h-1zM736,347h1v1h-1zM736,349h1v1h-1z" fill="#0ff"/>
<path d="M738,348h1v1h-1zM739,348h1v2h-1zM740,347h1v3h-1z" fill="#0ff"/>
<path d="M750,347h1v2h-1zM751,348h1v2h-1zM752,346h1v2h-1zM752,349h1v1h-1zM753,348h1v2h-1z" fill="#0ff"/>
<path d="M755,346h1v1h-1zM755,348h1v2h-1zM756,346h1v2h-1zM756,349h1v1h-1zM757,346h1v2h-1zM757,349h1v1h-1z" fill="#0ff"/>
<path d="M759,346h1v1h-1zM759,348h1v1h-1zM760,348h1v2h-1zM761,346h1v2h-1zM762,346h1v2h-1z" fill="#0ff"/>
<path d="M772,347h1v3h-1zM773,348h1v1h-1zM774,348h1v2h-1z" fill="#0ff"/>
<path d="M781,347h1v1h-1zM781,349h1v1h-1zM782,347h1v3h-1zM783,347h1v3h-1z" fill="#0ff"/>
<path d="M785,347h1v3h-1zM786,347h1v3h-1zM787,348h1v2h-1z" fill="#0ff"/>
<path d="M789,347h1v3h-1zM790,347h1v3h-1zM791,347h1v1h-1z" fill="#0ff"/>
<path d="M793,347h1v2h-1zM794,349h1v1h-1zM795,347h1v3h-1z" fill="#0ff"/>
<path d="M715,352h1v2h-1zM716,352h1v3h-1zM717,352h1v3h-1zM718,352h1v3h-1zM719,353h1v2h-1z" fill="#fff"/>
<path d="M726,352h1v3h-1zM727,352h1v2h-1zM728,352h1v3h-1z" fill="#ff0"/>
<path d="M730,352h1v3h-1zM731,352h1v3h-1zM732,352h1v1h-1zM732,354h1v1h-1z" fill="#ff0"/>
<path d="M734,353h1v2h-1zM735,352h1v2h-1zM736,352h1v3h-1z" fill="#ff0"/>
<path d="M738,353h1v2h-1zM739,353h1v2h-1zM740,352h1v3h-1z" fill="#ff0"/>
<path d="M750,353h1v2h-1zM751,352h1v2h-1zM752,352h1v2h-1zM753,353h1v2h-1z" fill="#0ff"/>
<path d="M755,354h1v1h-1zM756,352h1v3h-1zM757,353h1v1h-1z" fill="#0ff"/>
<path d="M759,352h1v2h-1zM760,352h1v2h-1zM761,352h1v3h-1zM762,352h1v3h-1z" fill="#0ff"/>
<path d="M772,352h1v3h-1zM773,352h1v2h-1zM774,352h1v1h-1zM774,354h1v1h-1z" fill="#0ff"/>
<path d="M781,352h1v1h-1zM781,354h1v1h-1zM782,352h1v3h-1zM783,353h1v1h-1z" fill="#0ff"/>
<path d="M785,352h1v3h-1zM786,352h1v3h-1zM787,352h1v1h-1zM787,354h1v1h-1z" fill="#0ff"/>
<path d="M790,352h1v1h-1zM791,352h1v3h-1z" fill="#0ff"/>
<path d="M793,353h1v2h-1zM794,352h1v2h-1zM795,352h1v1h-1zM795,354h1v1h-1z" fill="#0ff"/>
<path d="M714,359h1v2h-1zM715,358h1v3h-1zM716,358h1v2h-1zM717,358h1v3h-1zM718,358h1v1h-1zM718,360h1v1h-1zM719,358h1v1h-1zM719,360h1v1h-1z" fill="#fff"/>
<path d="M726,359h1v2h-1zM727,358h1v1h-1zM727,360h1v1h-1zM728,358h1v1h-1zM728,360h1v1h-1z" fill="#0ff"/>
<path d="M730,358h1v3h-1zM731,358h1v1h-1zM731,360h1v1h-1zM732,358h1v2h-1z" fill="#0ff"/>
<path d="M734,359h1v2h-1zM735,358h1v3h-1zM736,358h1v3h-1z" fill="#0ff"/>
<path d="M738,358h1v2h-1zM739,358h1v3h-1zM740,360h1v1h-1z" fill="#0ff"/>
<path d="M750,359h1v2h-1zM751,357h1v1h-1zM751,359h1v1h-1zM752,357h1v3h-1zM753,357h1v1h-1zM753,359h1v1h-1z" fill="#0ff"/>
<path d="M755,358h1v1h-1zM756,357h1v3h-1zM757,357h1v1h-1zM757,359h1v1h-1z" fill="#0ff"/>
<path d="M759,357h1v2h-1zM759,360h1v1h-1zM760,357h1v1h-1zM761,358h1v2h-1zM762,358h1v3h-1z" fill="#0ff"/>
<path d="M772,358h1v3h-1zM773,359h1v1h-1zM774,358h1v3h-1z" fill="#0ff"/>
<path d="M781,358h1v3h-1zM782,358h1v1h-1zM782,360h1v1h-1zM783,358h1v3h-1z" fill="#0ff"/>
<path d="M785,359h1v2h-1zM787,358h1v3h-1z" fill="#0ff"/>
<path d="M789,358h1v3h-1zM790,358h1v3h-1zM791,358h1v3h-1z" fill="#0ff"/>
<path d="M793,358h1v3h-1zM795,358h1v3h-1z" fill="#0ff"/>
<path d="M714,364h1v2h-1zM715,363h1v2h-1zM716,363h1v2h-1zM717,363h1v3h-1zM718,363h1v3h-1z" fill="#fff"/>
<path d="M726,363h1v3h-1zM727,363h1v3h-1zM728,364h1v2h-1z" fill="#0ff"/>
<path d="M730,364h1v2h-1zM731,364h1v2h-1zM732,363h1v3h-1z" fill="#0ff"/>
<path d="M734,363h1v3h-1zM735,363h1v3h-1zM736,363h1v3h-1z" fill="#0ff"/>
<path d="M738,363h1v1h-1zM738,365h1v1h-1zM739,363h1v3h-1zM740,363h1v2h-1z" fill="#0ff"/>
<path d="M750,363h1v3h-1zM751,364h1v2h-1zM752,364h1v2h-1z" fill="#0ff"/>
<path d="M755,363h1v2h-1zM756,364h1v2h-1zM757,363h1v3h-1z" fill="#0ff"/>
<path d="M759,364h1v2h-1zM760,363h1v2h-1zM761,364h1v2h-1zM762,365h1v1h-1z" fill="#0ff"/>
<path d="M772,364h1v2h-1zM773,363h1v3h-1zM774,363h1v3h-1z" fill="#0ff"/>
<path d="M781,363h1v3h-1zM782,364h1v2h-1zM783,363h1v1h-1zM783,365h1v1h-1z" fill="#0ff"/>
<path d="M785,363h1v1h-1zM785,365h1v1h-1zM786,363h1v1h-1zM786,365h1v1h-1zM787,363h1v3h-1z" fill="#0ff"/>
<path d="M789,363h1v1h-1zM789,365h1v1h-1zM790,363h1v2h-1zM791,363h1v3h-1z" fill="#0ff"/>
<path d="M793,364h1v1h-1zM794,364h1v2h-1zM795,363h1v2h-1z" fill="#0ff"/>
<path d="M714,368h1v3h-1zM715,370h1v1h-1zM716,368h1v3h-1zM717,369h1v2h-1zM718,369h1v2h-1zM719,368h1v1h-1zM719,370h1v1h-1z" fill="#fff"/>
<path d="M726,368h1v3h-1zM727,368h1v3h-1zM728,368h1v3h-1z" fill="#0ff"/>
<path d="M730,368h1v1h-1zM730,370h1v1h-1zM731,368h1v3h-1zM732,368h1v3h-1z" fill="#0ff"/>
<path d="M734,368h1v3h-1zM735,368h1v2h-1zM736,370h1v1h-1z" fill="#0ff"/>
<path d="M738,368h1v3h-1zM739,369h1v2h-1zM740,368h1v2h-1z" fill="#0ff"/>
<path d="M750,368h1v4h-1zM751,368h1v1h-1zM752,368h1v4h-1zM753,368h1v4h-1z" fill="#0ff"/>
<path d="M755,368h1v1h-1zM755,370h1v1h-1zM756,368h1v4h-1zM757,368h1v4h-1z" fill="#0ff"/>
<path d="M759,369h1v1h-1zM760,368h1v2h-1zM760,371h1v1h-1zM761,369h1v3h-1zM762,368h1v1h-1zM762,370h1v2h-1z" fill="#0ff"/>
<path d="M772,368h1v1h-1zM772,370h1v1h-1zM773,369h1v1h-1zM774,369h1v2h-1z" fill="#0ff"/>
<path d="M781,369h1v1h-1zM782,368h1v3h-1zM783,370h1v1h-1z" fill="#0ff"/>
<path d="M785,368h1v2h-1zM786,368h1v3h-1zM787,368h1v2h-1z" fill="#0ff"/>
<path d="M789,368h1v3h-1zM790,368h1v3h-1zM791,369h1v1h-1z" fill="#0ff"/>
<path d="M793,368h1v1h-1zM794,368h1v3h-1zM795,368h1v3h-1z" fill="#0ff"/>
<path d="M714,374h1v3h-1zM715,374h1v3h-1zM716,375h1v1h-1zM717,376h1v1h-1zM718,374h1v2h-1zM719,374h1v1h-1zM719,376h1v1h-1z" fill="#fff"/>
<path d="M726,374h1v1h-1zM726,376h1v1h-1zM727,374h1v3h-1zM728,374h1v1h-1z" fill="#0ff"/>
<path d="M730,374h1v1h-1zM730,376h1v1h-1zM731,374h1v1h-1zM731,376h1v1h-1zM732,375h1v2h-1z" fill="#0ff"/>
<path d="M734,374h1v3h-1zM735,374h1v3h-1zM736,374h1v3h-1z" fill="#0ff"/>
<path d="M738,374h1v3h-1zM739,374h1v3h-1zM740,374h1v3h-1z" fill="#0ff"/>
<path d="M750,374h1v3h-1zM751,374h1v1h-1zM751,376h1v1h-1zM752,374h1v1h-1zM752,376h1v1h-1zM753,376h1v1h-1z" fill="#0ff"/>
<path d="M755,374h1v2h-1zM756,374h1v3h-1zM757,374h1v3h-1z" fill="#0ff"/>
<path d="M759,374h1v3h-1zM760,374h1v3h-1zM761,374h1v2h-1zM762,374h1v1h-1zM762,376h1v1h-1z" fill="#0ff"/>
<path d="M772,375h1v1h-1zM773,374h1v1h-1zM773,376h1v1h-1zM774,375h1v2h-1z" fill="#0ff"/>
<path d="M781,374h1v3h-1zM782,374h1v1h-1zM782,376h1v1h-1zM783,374h1v3h-1z" fill="#0ff"/>
<path d="M785,376h1v1h-1zM786,374h1v2h-1zM787,374h1v3h-1z" fill="#0ff"/>
<path d="M789,375h1v1h-1zM790,374h1v1h-1zM790,376h1v1h-1zM791,375h1v2h-1z" fill="#0ff"/>
<path d="M793,374h1v2h-1zM794,374h1v3h-1zM795,374h1v3h-1z" fill="#0ff"/>
<path d="M714,379h1v1h-1zM715,380h1v2h-1zM717,379h1v3h-1zM718,381h1v1h-1zM719,379h1v3h-1z" fill="#fff"/>
<path d="M726,380h1v2h-1zM727,379h1v1h-1zM728,380h1v1h-1z" fill="#0ff"/>
<path d="M730,380h1v2h-1zM731,380h1v1h-1zM732,379h1v1h-1zM732,381h1v1h-1z" fill="#0ff"/>
<path d="M734,380h1v1h-1zM735,379h1v2h-1zM736,379h1v3h-1z" fill="#0ff"/>
<path d="M738,379h1v2h-1zM739,379h1v3h-1zM740,379h1v3h-1z" fill="#0ff"/>
<path d="M750,380h1v2h-1zM751,380h1v2h-1zM752,380h1v2h-1zM753,378h1v2h-1zM753,381h1v1h-1z" fill="#0ff"/>
<path d="M755,378h1v4h-1zM756,378h1v1h-1zM756,380h1v2h-1zM757,378h1v2h-1zM757,381h1v1h-1z" fill="#0ff"/>
<path d="M759,380h1v1h-1zM760,378h1v1h-1zM760,380h1v2h-1zM761,379h1v2h-1zM762,378h1v1h-1zM762,380h1v2h-1z" fill="#0ff"/>
<path d="M772,380h1v1h-1zM773,379h1v1h-1zM773,381h1v1h-1zM774,379h1v3h-1z" fill="#0ff"/>
<path d="M781,380h1v1h-1zM782,379h1v3h-1zM783,379h1v1h-1zM783,381h1v1h-1z" fill="#0ff"/>
<path d="M785,379h1v1h-1zM786,379h1v3h-1zM787,379h1v1h-1zM787,381h1v1h-1z" fill="#0ff"/>
<path d="M789,379h1v3h-1zM790,379h1v2h-1zM791,379h1v2h-1z" fill="#0ff"/>
<path d="M793,379h1v1h-1zM793,381h1v1h-1zM794,379h1v2h-1z" fill="#0ff"/>
<path d="M714,384h1v3h-1zM715,386h1v1h-1zM716,384h1v3h-1zM717,384h1v3h-1zM718,384h1v1h-1zM718,386h1v1h-1zM719,384h1v2h-1z" fill="#fff"/>
<path d="M726,384h1v1h-1zM726,386h1v1h-1zM727,384h1v1h-1zM727,386h1v1h-1zM728,384h1v3h-1z" fill="#0ff"/>
<path d="M730,384h1v1h-1zM730,386h1v1h-1zM731,384h1v3h-1zM732,385h1v2h-1z" fill="#0ff"/>
<path d="M734,384h1v3h-1zM735,384h1v2h-1zM736,385h1v2h-1z" fill="#0ff"/>
<path d="M738,385h1v2h-1zM739,384h1v3h-1zM740,384h1v2h-1z" fill="#0ff"/>
<path d="M750,384h1v2h-1zM751,384h1v1h-1zM751,386h1v1h-1zM752,385h1v2h-1zM753,385h1v2h-1z" fill="#0ff"/>
<path d="M755,386h1v1h-1zM756,384h1v1h-1zM756,386h1v1h-1zM757,384h1v3h-1z" fill="#0ff"/>
<path d="M759,385h1v1h-1zM760,384h1v2h-1zM761,384h1v3h-1zM762,384h1v1h-1z" fill="#0ff"/>
<path d="M772,384h1v1h-1zM772,386h1v1h-1zM773,384h1v1h-1z" fill="#0ff"/>
<path d="M781,384h1v1h-1zM782,384h1v2h-1zM783,384h1v2h-1z" fill="#0ff"/>
<path d="M785,384h1v3h-1zM786,385h1v2h-1zM787,384h1v3h-1z" fill="#0ff"/>
<path d="M789,385h1v2h-1zM790,384h1v3h-1z" fill="#0ff"/>
<path d="M793,384h1v2h-1zM794,384h1v1h-1zM795,386h1v1h-1z" fill="#0ff"/>
<path d="M714,391h1v2h-1zM715,390h1v3h-1zM716,390h1v2h-1zM717,390h1v3h-1zM718,390h1v2h-1zM719,391h1v2h-1z" fill="#fff"/>
<path d="M726,390h1v1h-1zM726,392h1v1h-1zM727,390h1v3h-1zM728,390h1v3h-1z" fill="#0ff"/>
<path d="M730,390h1v1h-1zM730,392h1v1h-1zM731,391h1v2h-1zM732,390h1v3h-1z" fill="#0ff"/>
<path d="M734,390h1v3h-1zM735,390h1v1h-1zM736,390h1v3h-1z" fill="#0ff"/>
<path d="M738,390h1v3h-1zM739,390h1v3h-1zM740,390h1v3h-1z" fill="#0ff"/>
<path d="M750,389h1v2h-1zM751,391h1v1h-1zM752,389h1v4h-1zM753,391h1v2h-1z" fill="#0ff"/>
<path d="M755,389h1v4h-1zM756,390h1v3h-1zM757,390h1v3h-1z" fill="#0ff"/>
<path d="M760,392h1v1h-1zM761,389h1v2h-1zM762,389h1v4h-1z" fill="#0ff"/>
<path d="M772,392h1v1h-1zM773,390h1v3h-1zM774,392h1v1h-1z" fill="#0ff"/>
<path d="M781,390h1v3h-1zM782,391h1v1h-1zM783,392h1v1h-1z" fill="#0ff"/>
<path d="M785,391h1v2h-1zM786,390h1v3h-1zM787,390h1v2h-1z" fill="#0ff"/>
<path d="M790,390h1v1h-1zM790,392h1v1h-1zM791,392h1v1h-1z" fill="#0ff"/>
<path d="M793,390h1v3h-1zM794,390h1v2h-1zM795,391h1v2h-1z" fill="#0ff"/>
<path d="M714,396h1v2h-1zM715,395h1v2h-1zM716,395h1v3h-1zM717,395h1v1h-1zM717,397h1v1h-1zM718,395h1v3h-1zM719,395h1v3h-1z" fill="#fff"/>
<path d="M726,395h1v3h-1zM727,395h1v3h-1zM728,395h1v3h-1z" fill="#0ff"/>
<path d="M730,395h1v3h-1zM731,395h1v3h-1zM732,396h1v2h-1z" fill="#0ff"/>
<path d="M734,395h1v1h-1zM734,397h1v1h-1zM735,395h1v2h-1zM736,395h1v3h-1z" fill="#0ff"/>
<path d="M738,395h1v1h-1zM739,395h1v3h-1zM740,396h1v2h-1z" fill="#0ff"/>
<path d="M750,396h1v1h-1zM751,395h1v3h-1zM752,396h1v1h-1zM753,396h1v1h-1z" fill="#0ff"/>
<path d="M755,395h1v3h-1zM757,395h1v1h-1zM757,397h1v1h-1z" fill="#0ff"/>
<path d="M759,396h1v2h-1zM760,395h1v1h-1zM760,397h1v1h-1zM761,395h1v3h-1zM762,395h1v2h-1z" fill="#0ff"/>
<path d="M772,395h1v1h-1zM773,395h1v2h-1zM774,395h1v3h-1z" fill="#0ff"/>
<path d="M781,396h1v2h-1zM782,395h1v1h-1zM783,396h1v2h-1z" fill="#0ff"/>
<path d="M785,395h1v1h-1zM785,397h1v1h-1zM786,395h1v1h-1zM787,395h1v3h-1z" fill="#0ff"/>
<path d="M789,395h1v3h-1zM790,395h1v3h-1zM791,395h1v1h-1z" fill="#0ff"/>
<path d="M794,396h1v2h-1zM795,396h1v1h-1z" fill="#0ff"/>
<path d="M714,400h1v1h-1zM714,402h1v1h-1zM715,400h1v3h-1zM716,400h1v3h-1zM717,400h1v1h-1zM717,402h1v1h-1zM719,402h1v1h-1z" fill="#fff"/>
<path d="M726,400h1v3h-1zM727,400h1v1h-1zM728,400h1v3h-1z" fill="#0ff"/>
<path d="M730,401h1v2h-1zM731,400h1v1h-1zM731,402h1v1h-1zM732,400h1v3h-1z" fill="#0ff"/>
<path d="M734,401h1v2h-1zM735,400h1v2h-1zM736,400h1v1h-1zM736,402h1v1h-1z" fill="#0ff"/>
<path d="M738,401h1v2h-1zM739,400h1v1h-1zM739,402h1v1h-1zM740,400h1v2h-1z" fill="#0ff"/>
<path d="M750,400h1v2h-1zM751,402h1v2h-1zM752,400h1v1h-1zM752,402h1v2h-1zM753,401h1v2h-1z" fill="#0ff"/>
<path d="M755,400h1v1h-1zM755,402h1v2h-1zM756,400h1v4h-1zM757,400h1v2h-1z" fill="#0ff"/>
<path d="M759,400h1v1h-1zM759,402h1v2h-1zM760,400h1v2h-1zM760,403h1v1h-1zM761,401h1v1h-1zM761,403h1v1h-1zM762,401h1v1h-1zM762,403h1v1h-1z" fill="#0ff"/>
<path d="M773,400h1v3h-1zM774,401h1v1h-1z" fill="#0ff"/>
<path d="M781,400h1v3h-1zM782,400h1v2h-1zM783,400h1v3h-1z" fill="#0ff"/>
<path d="M785,400h1v3h-1zM786,401h1v1h-1zM787,400h1v1h-1zM787,402h1v1h-1z" fill="#0ff"/>
<path d="M789,401h1v2h-1zM790,400h1v3h-1zM791,401h1v2h-1z" fill="#0ff"/>
<path d="M793,401h1v2h-1zM794,400h1v3h-1zM795,400h1v2h-1z" fill="#0ff"/>
<path d="M806,400h1v2h-1zM807,400h1v3h-1zM808,400h1v2h-1z" fill="#0ff"/>
<path d="M810,400h1v3h-1zM811,400h1v3h-1zM812,400h1v3h-1z" fill="#0ff"/>
<path d="M814,400h1v1h-1zM814,402h1v1h-1zM815,400h1v2h-1zM816,400h1v1h-1z" fill="#0ff"/>
<path d="M818,401h1v1h-1zM819,400h1v3h-1zM820,401h1v2h-1z" fill="#0ff"/>
<path d="M714,406h1v1h-1zM714,408h1v1h-1zM715,406h1v3h-1zM716,406h1v3h-1zM717,406h1v2h-1zM718,406h1v3h-1zM719,406h1v3h-1z" fill="#fff"/>
<path d="M726,406h1v3h-1zM727,406h1v3h-1zM728,406h1v2h-1z" fill="#0ff"/>
<path d="M730,407h1v1h-1zM731,406h1v1h-1zM731,408h1v1h-1zM732,406h1v2h-1z" fill="#0ff"/>
<path d="M734,406h1v3h-1zM735,406h1v3h-1zM736,406h1v2h-1z" fill="#0ff"/>
<path d="M738,406h1v3h-1zM739,407h1v2h-1zM740,406h1v1h-1zM740,408h1v1h-1z" fill="#0ff"/>
<path d="M750,407h1v2h-1zM751,407h1v1h-1zM752,406h1v2h-1zM753,406h1v3h-1z" fill="#0ff"/>
<path d="M755,407h1v2h-1zM756,406h1v1h-1zM756,408h1v1h-1zM757,406h1v3h-1z" fill="#0ff"/>
<path d="M759,406h1v1h-1zM759,408h1v1h-1zM760,406h1v2h-1zM761,406h1v3h-1zM762,406h1v1h-1zM762,408h1v1h-1z" fill="#0ff"/>
<path d="M772,406h1v3h-1zM773,406h1v2h-1z" fill="#0ff"/>
<path d="M781,406h1v1h-1zM781,408h1v1h-1zM782,406h1v1h-1zM782,408h1v1h-1zM783,406h1v3h-1z" fill="#0ff"/>
<path d="M785,408h1v1h-1zM786,406h1v1h-1zM787,406h1v3h-1z" fill="#0ff"/>
<path d="M789,406h1v3h-1zM791,406h1v2h-1z" fill="#0ff"/>
<path d="M793,406h1v3h-1zM794,406h1v3h-1zM795,406h1v3h-1z" fill="#0ff"/>
<path d="M714,411h1v3h-1zM715,411h1v1h-1zM715,413h1v1h-1zM716,411h1v3h-1zM717,411h1v2h-1zM718,412h1v2h-1zM719,412h1v2h-1z" fill="#fff"/>
<path d="M726,413h1v1h-1zM727,411h1v3h-1zM728,411h1v3h-1z" fill="#0ff"/>
<path d="M730,411h1v3h-1zM731,411h1v3h-1zM732,411h1v2h-1z" fill="#0ff"/>
<path d="M734,411h1v3h-1zM735,411h1v3h-1zM736,411h1v3h-1z" fill="#0ff"/>
<path d="M738,411h1v1h-1zM738,413h1v1h-1zM739,412h1v2h-1zM740,411h1v1h-1zM740,413h1v1h-1z" fill="#0ff"/>
<path d="M750,412h1v2h-1zM751,411h1v1h-1zM751,414h1v1h-1zM752,411h1v3h-1zM753,411h1v4h-1z" fill="#0ff"/>
<path d="M755,412h1v3h-1zM756,413h1v2h-1zM757,413h1v2h-1z" fill="#0ff"/>
<path d="M759,411h1v4h-1zM760,411h1v4h-1zM761,411h1v2h-1zM761,414h1v1h-1zM762,413h1v2h-1z" fill="#0ff"/>
<path d="M772,411h1v1h-1zM772,413h1v1h-1zM773,411h1v2h-1zM774,411h1v1h-1zM774,413h1v1h-1z" fill="#0ff"/>
<path d="M781,413h1v1h-1zM782,411h1v2h-1zM783,413h1v1h-1z" fill="#0ff"/>
<path d="M785,411h1v3h-1zM786,411h1v3h-1zM787,411h1v3h-1z" fill="#0ff"/>
<path d="M789,411h1v3h-1zM790,412h1v1h-1zM791,411h1v3h-1z" fill="#0ff"/>
<path d="M793,411h1v2h-1zM794,411h1v3h-1zM795,411h1v3h-1z" fill="#0ff"/>
<path d="M807,413h1v1h-1zM808,411h1v1h-1zM808,413h1v1h-1z" fill="#0ff"/>
<path d="M810,411h1v3h-1zM811,411h1v2h-1zM812,412h1v2h-1z" fill="#0ff"/>
<path d="M814,411h1v3h-1zM815,411h1v1h-1zM815,413h1v1h-1zM816,412h1v2h-1z" fill="#0ff"/>
<path d="M818,411h1v3h-1zM819,411h1v3h-1zM820,411h1v1h-1z" fill="#0ff"/>
<path d="M714,416h1v2h-1zM715,417h1v2h-1zM716,416h1v3h-1zM717,416h1v1h-1zM718,416h1v3h-1zM719,416h1v2h-1z" fill="#fff"/>
<path d="M726,416h1v3h-1zM727,416h1v2h-1zM728,416h1v3h-1z" fill="#0ff"/>
<path d="M730,416h1v3h-1zM731,416h1v2h-1zM732,416h1v3h-1z" fill="#0ff"/>
<path d="M734,416h1v3h-1zM735,416h1v1h-1zM735,418h1v1h-1zM736,416h1v2h-1z" fill="#0ff"/>
<path d="M738,417h1v1h-1zM739,416h1v3h-1zM740,416h1v3h-1z" fill="#0ff"/>
<path d="M750,416h1v1h-1zM750,418h1v1h-1zM751,417h1v2h-1zM752,416h1v2h-1zM753,416h1v1h-1zM753,418h1v1h-1z" fill="#0ff"/>
<path d="M755,416h1v1h-1zM755,418h1v1h-1zM756,416h1v2h-1zM757,417h1v2h-1z" fill="#0ff"/>
<path d="M759,417h1v1h-1zM760,417h1v1h-1zM761,417h1v2h-1zM762,416h1v3h-1z" fill="#0ff"/>
<path d="M772,416h1v2h-1zM773,416h1v1h-1zM774,417h1v1h-1z" fill="#0ff"/>
<path d="M782,418h1v1h-1zM783,416h1v2h-1z" fill="#0ff"/>
<path d="M785,416h1v3h-1zM786,417h1v1h-1zM787,418h1v1h-1z" fill="#0ff"/>
<path d="M789,418h1v1h-1zM790,416h1v2h-1zM791,416h1v3h-1z" fill="#0ff"/>
<path d="M794,416h1v3h-1zM795,416h1v3h-1z" fill="#0ff"/>
<path d="M713,423h1v3h-1zM714,423h1v3h-1zM715,424h1v2h-1z" fill="#fff"/>
<path d="M718,423h1v1h-1zM719,422h1v1h-1zM719,424h1v2h-1zM720,422h1v1h-1zM720,424h1v2h-1z" fill="#fff"/>
<path d="M729,422h1v1h-1zM729,424h1v2h-1zM730,422h1v2h-1zM730,425h1v1h-1zM731,422h1v1h-1zM731,424h1v2h-1z" fill="#fff"/>
<path d="M734,422h1v1h-1zM734,424h1v2h-1zM735,422h1v1h-1zM735,425h1v1h-1zM736,422h1v1h-1zM736,425h1v1h-1z" fill="#fff"/>
<path d="M753,424h1v2h-1zM754,424h1v2h-1zM755,422h1v1h-1zM755,424h1v2h-1z" fill="#fff"/>
<path d="M758,422h1v3h-1zM759,423h1v1h-1zM759,425h1v1h-1zM760,423h1v1h-1z" fill="#fff"/>
<path d="M770,422h1v1h-1zM770,424h1v2h-1zM771,422h1v1h-1zM772,422h1v1h-1zM772,424h1v2h-1zM773,422h1v1h-1zM773,424h1v2h-1z" fill="#fff"/>
<path d="M774,422h1v4h-1zM775,422h1v4h-1zM776,424h1v2h-1zM777,422h1v3h-1z" fill="#fff"/>
<path d="M784,422h1v2h-1zM785,424h1v1h-1zM786,423h1v1h-1zM786,425h1v1h-1zM787,422h1v2h-1zM787,425h1v1h-1z" fill="#fff"/>
<path d="M788,422h1v3h-1zM789,422h1v1h-1zM789,424h1v2h-1zM790,422h1v4h-1zM791,422h1v4h-1z" fill="#fff"/>
<path d="M810,422h1v4h-1zM811,422h1v1h-1zM811,424h1v1h-1zM812,422h1v4h-1zM813,422h1v2h-1z" fill="#fff"/>
<path d="M814,422h1v4h-1zM815,422h1v3h-1zM816,422h1v2h-1zM817,422h1v2h-1zM817,425h1v1h-1z" fill="#fff"/>
<g fill="none" stroke="#fff" stroke-width="1">
<line x1="711.5" y1="432.5" x2="765.5" y2="432.5"/>
<line x1="711.5" y1="437.5" x2="765.5" y2="437.5"/>
<line x1="711.5" y1="441.5" x2="765.5" y2="441.5"/>
<line x1="711.5" y1="446.5" x2="765.5" y2="446.5"/>
<line x1="711.5" y1="450.5" x2="765.5" y2="450.5"/>
<line x1="711.5" y1="455.5" x2="765.5" y2="455.5"/>
<line x1="711.5" y1="459.5" x2="765.5" y2="459.5"/>
<line x1="718.5" y1="427.5" x2="718.5" y2="464"/>
<line x1="726.5" y1="427.5" x2="726.5" y2="464"/>
<line x1="735.5" y1="427.5" x2="735.5" y2="464"/>
<line x1="746.5" y1="427.5" x2="746.5" y2="464"/>
<line x1="754.5" y1="427.5" x2="754.5" y2="464"/>
<line x1="765.5" y1="427.5" x2="765.5" y2="464"/>
<line x1="798.5" y1="427.5" x2="798.5" y2="464"/>
<line x1="765.5" y1="445.5" x2="831" y2="445.5"/>
<line x1="798.5" y1="439.5" x2="831" y2="439.5"/>
<line x1="798.5" y1="451.5" x2="831" y2="451.5"/>
<line x1="765.5" y1="451.5" x2="798.5" y2="451.5"/>
<line x1="765.5" y1="457.5" x2="798.5" y2="457.5"/>
<line x1="772.5" y1="451.5" x2="772.5" y2="457.5"/>
<line x1="776.5" y1="451.5" x2="776.5" y2="457.5"/>
<line x1="781.5" y1="451.5" x2="781.5" y2="457.5"/>
<line x1="785.5" y1="451.5" x2="785.5" y2="457.5"/>
<line x1="790.5" y1="451.5" x2="790.5" y2="457.5"/>
</g>
<path d="M773,434h1v4h-1zM774,436h1v2h-1zM775,436h1v2h-1z" fill="#0ff"/>
<path d="M777,434h1v1h-1zM777,436h1v2h-1zM778,434h1v2h-1zM779,434h1v4h-1z" fill="#0ff"/>
<path d="M781,434h1v1h-1zM781,436h1v2h-1zM782,435h1v3h-1z" fill="#0ff"/>
<path d="M784,434h1v2h-1zM784,437h1v1h-1zM785,434h1v3h-1zM786,434h1v3h-1z" fill="#0ff"/>
<path d="M788,434h1v4h-1zM789,434h1v1h-1zM789,436h1v2h-1zM790,434h1v2h-1z" fill="#0ff"/>
<path d="M712,442h1v1h-1zM713,441h1v1h-1zM714,440h1v3h-1zM715,441h1v2h-1zM716,442h1v1h-1zM717,441h1v2h-1zM718,440h1v3h-1zM719,440h1v3h-1zM720,440h1v3h-1zM721,441h1v1h-1zM722,440h1v3h-1zM723,440h1v1h-1zM724,440h1v3h-1zM725,440h1v3h-1zM726,440h1v3h-1zM727,440h1v2h-1zM728,440h1v2h-1zM729,440h1v3h-1zM731,440h1v3h-1zM732,440h1v3h-1zM733,442h1v1h-1zM734,440h1v1h-1zM734,442h1v1h-1zM735,440h1v3h-1zM736,440h1v1h-1zM737,441h1v2h-1zM738,440h1v2h-1zM740,441h1v2h-1zM741,441h1v2h-1zM742,440h1v1h-1zM742,442h1v1h-1zM743,440h1v1h-1zM743,442h1v1h-1zM744,442h1v1h-1zM745,441h1v1h-1zM746,440h1v2h-1zM747,440h1v1h-1zM747,442h1v1h-1zM748,440h1v2h-1zM749,440h1v3h-1zM750,440h1v3h-1zM751,440h1v3h-1zM752,440h1v3h-1zM754,440h1v2h-1zM755,441h1v1h-1zM756,440h1v1h-1zM756,442h1v1h-1zM757,440h1v3h-1zM758,440h1v2h-1zM759,440h1v3h-1zM760,440h1v3h-1zM761,441h1v2h-1zM762,440h1v1h-1zM763,440h1v3h-1zM764,440h1v3h-1z" fill="#fff"/>
<path d="M712,445h1v2h-1zM713,445h1v2h-1zM714,444h1v3h-1zM715,445h1v1h-1zM716,444h1v1h-1zM716,446h1v1h-1zM717,445h1v1h-1zM718,445h1v2h-1zM719,445h1v2h-1zM720,446h1v1h-1zM721,445h1v2h-1zM723,444h1v3h-1zM724,444h1v3h-1zM725,444h1v3h-1zM726,444h1v2h-1zM727,444h1v2h-1zM728,444h1v1h-1zM729,444h1v2h-1zM730,444h1v3h-1zM731,444h1v3h-1zM732,444h1v3h-1zM733,445h1v2h-1zM734,445h1v2h-1zM735,445h1v2h-1zM736,444h1v2h-1zM737,444h1v1h-1zM737,446h1v1h-1zM738,444h1v3h-1zM739,444h1v2h-1zM740,444h1v2h-1zM741,445h1v1h-1zM742,444h1v3h-1zM743,445h1v2h-1zM744,444h1v2h-1zM745,444h1v1h-1zM745,446h1v1h-1zM746,444h1v2h-1zM747,444h1v1h-1zM747,446h1v1h-1zM748,445h1v2h-1zM749,445h1v2h-1zM750,444h1v1h-1zM751,444h1v1h-1zM751,446h1v1h-1zM752,444h1v3h-1zM754,444h1v3h-1zM755,445h1v2h-1zM756,445h1v2h-1zM757,444h1v3h-1zM758,445h1v2h-1zM759,444h1v3h-1zM760,444h1v3h-1zM761,444h1v2h-1zM762,444h1v1h-1zM762,446h1v1h-1zM763,444h1v3h-1zM764,444h1v1h-1zM764,446h1v1h-1z" fill="#fff"/>
<path d="M713,448h1v1h-1zM713,450h1v1h-1zM714,448h1v1h-1zM714,450h1v1h-1zM715,448h1v3h-1zM716,448h1v3h-1zM717,448h1v3h-1z" fill="#fff"/>
<path d="M713,459h1v2h-1zM714,458h1v2h-1zM715,458h1v3h-1zM716,458h1v2h-1zM717,458h1v3h-1z" fill="#fff"/>
<path d="M740,458h1v4h-1zM741,458h1v4h-1zM742,458h1v4h-1z" fill="#fff"/>
<path d="M767,448h1v2h-1zM768,447h1v3h-1zM769,447h1v1h-1zM769,449h1v1h-1zM770,447h1v3h-1zM771,447h1v3h-1zM772,447h1v3h-1zM773,449h1v1h-1zM774,447h1v3h-1zM775,447h1v2h-1zM776,447h1v1h-1zM777,447h1v3h-1zM778,447h1v3h-1zM779,447h1v1h-1zM779,449h1v1h-1zM780,449h1v1h-1zM781,447h1v3h-1zM782,448h1v2h-1zM783,447h1v1h-1zM783,449h1v1h-1zM784,448h1v2h-1zM785,447h1v1h-1zM786,447h1v2h-1zM787,448h1v2h-1zM788,447h1v3h-1zM789,447h1v1h-1zM790,447h1v1h-1zM791,448h1v1h-1zM792,447h1v1h-1zM792,449h1v1h-1zM793,447h1v3h-1zM794,447h1v3h-1zM795,447h1v3h-1zM796,447h1v3h-1z" fill="#fff"/>
<path d="M792,453h1v3h-1zM793,453h1v3h-1zM794,453h1v3h-1zM795,454h1v2h-1zM796,453h1v3h-1z" fill="#fff"/>
<path d="M773,461h1v1h-1zM774,460h1v2h-1zM775,460h1v2h-1zM776,460h1v2h-1zM777,460h1v2h-1zM778,460h1v2h-1zM779,460h1v2h-1zM780,460h1v2h-1zM781,460h1v2h-1zM782,460h1v2h-1zM783,460h1v1h-1zM784,460h1v2h-1zM786,460h1v2h-1zM787,460h1v2h-1zM788,460h1v2h-1zM789,460h1v2h-1z" fill="#fff"/>
<path d="M801,452h1v1h-1zM802,452h1v3h-1zM802,456h1v1h-1zM803,452h1v2h-1zM803,456h1v1h-1zM804,454h1v2h-1z" fill="#fff"/>
<path d="M806,452h1v2h-1zM806,455h1v2h-1zM807,452h1v5h-1zM808,452h1v2h-1zM808,455h1v2h-1zM809,452h1v5h-1z" fill="#fff"/>
<path d="M811,452h1v2h-1zM811,456h1v1h-1zM812,452h1v5h-1zM813,452h1v5h-1z" fill="#fff"/>
<path d="M815,452h1v3h-1zM815,456h1v1h-1zM816,453h1v1h-1zM816,455h1v2h-1zM817,452h1v2h-1zM817,456h1v1h-1zM818,453h1v1h-1zM818,455h1v2h-1z" fill="#fff"/>
<path d="M820,452h1v2h-1zM820,456h1v1h-1zM821,452h1v1h-1zM821,454h1v2h-1zM822,452h1v1h-1zM822,454h1v3h-1zM823,452h1v5h-1z" fill="#fff"/>
<path d="M825,452h1v2h-1zM825,455h1v1h-1zM826,452h1v4h-1zM827,452h1v1h-1zM827,454h1v3h-1zM828,452h1v3h-1zM828,456h1v1h-1z" fill="#fff"/>
<path d="M812,459h1v4h-1zM813,459h1v1h-1zM813,461h1v2h-1zM814,460h1v3h-1zM815,459h1v4h-1z" fill="#fff"/>
</g>
<g shape-rendering="crispEdges">
<path d="M378,395h1v1h-1zM378,397h1v1h-1zM378,399h1v1h-1zM379,395h1v2h-1zM379,400h1v1h-1zM380,395h1v3h-1zM380,400h1v1h-1zM381,396h1v1h-1zM381,398h1v3h-1zM382,395h1v3h-1zM382,399h1v2h-1zM383,396h1v1h-1zM383,399h1v2h-1z" fill="#0ff"/>
<path d="M385,395h1v1h-1zM385,397h1v1h-1zM385,399h1v2h-1zM386,398h1v1h-1zM386,400h1v1h-1zM387,398h1v1h-1zM387,400h1v1h-1zM388,396h1v2h-1zM388,399h1v1h-1zM389,396h1v1h-1zM389,398h1v1h-1zM389,400h1v1h-1z" fill="#0ff"/>
<path d="M391,395h1v4h-1zM391,400h1v1h-1zM392,395h1v3h-1zM393,396h1v1h-1zM393,398h1v1h-1zM394,396h1v2h-1zM394,399h1v1h-1zM395,396h1v1h-1zM395,398h1v1h-1zM395,400h1v1h-1zM396,395h1v1h-1zM396,397h1v1h-1zM396,400h1v1h-1z" fill="#0ff"/>
<path d="M398,396h1v3h-1zM398,400h1v1h-1zM399,395h1v3h-1zM400,395h1v3h-1zM400,400h1v1h-1zM401,395h1v2h-1zM401,398h1v2h-1zM402,395h1v1h-1zM402,397h1v1h-1zM402,399h1v2h-1z" fill="#0ff"/>
<path d="M358,405h1v3h-1zM359,404h1v3h-1zM360,404h1v1h-1zM360,406h1v2h-1zM361,405h1v1h-1zM361,407h1v1h-1z" fill="#0ff"/>
<path d="M364,404h1v1h-1zM364,407h1v1h-1zM365,404h1v4h-1z" fill="#0ff"/>
<path d="M367,404h1v1h-1zM367,406h1v2h-1zM368,404h1v4h-1zM369,404h1v3h-1zM370,404h1v1h-1zM370,406h1v2h-1z" fill="#0ff"/>
<path d="M372,405h1v3h-1zM373,405h1v1h-1zM373,407h1v1h-1zM374,404h1v1h-1zM374,406h1v2h-1z" fill="#0ff"/>
<path d="M376,404h1v1h-1zM376,407h1v1h-1zM377,404h1v1h-1zM377,406h1v1h-1zM378,405h1v3h-1zM379,404h1v4h-1z" fill="#0ff"/>
<path d="M381,404h1v3h-1zM382,405h1v3h-1zM383,404h1v2h-1zM384,405h1v2h-1z" fill="#0ff"/>
<path d="M386,404h1v1h-1zM386,406h1v2h-1zM387,404h1v1h-1zM387,406h1v2h-1zM388,404h1v1h-1zM388,407h1v1h-1z" fill="#0ff"/>
<path d="M390,404h1v2h-1zM390,407h1v1h-1zM391,405h1v3h-1zM392,404h1v2h-1zM392,407h1v1h-1zM393,404h1v1h-1zM393,407h1v1h-1z" fill="#0ff"/>
<path d="M395,407h1v1h-1zM396,404h1v2h-1zM397,404h1v1h-1z" fill="#0ff"/>
<path d="M399,404h1v4h-1zM400,404h1v2h-1zM400,407h1v1h-1zM401,405h1v2h-1zM402,404h1v1h-1zM402,406h1v1h-1z" fill="#0ff"/>
<path d="M404,404h1v1h-1zM404,406h1v2h-1zM405,404h1v4h-1zM406,404h1v2h-1zM406,407h1v1h-1zM407,404h1v2h-1zM407,407h1v1h-1z" fill="#0ff"/>
<path d="M409,406h1v1h-1zM410,404h1v4h-1zM411,405h1v2h-1z" fill="#0ff"/>
<path d="M413,404h1v4h-1zM414,406h1v2h-1zM415,404h1v3h-1zM416,404h1v2h-1zM416,407h1v1h-1z" fill="#0ff"/>
<path d="M418,405h1v2h-1zM419,404h1v4h-1zM420,404h1v4h-1z" fill="#0ff"/>
<path d="M422,404h1v4h-1zM423,405h1v3h-1zM424,405h1v1h-1zM424,407h1v1h-1zM425,405h1v2h-1z" fill="#0ff"/>
<path d="M427,404h1v2h-1zM427,407h1v1h-1zM428,405h1v3h-1zM429,404h1v4h-1zM430,404h1v1h-1zM430,406h1v1h-1z" fill="#0ff"/>
<path d="M358,406h1v1h-1zM359,405h1v1h-1zM361,405h1v2h-1zM362,406h1v1h-1zM365,405h1v1h-1zM366,406h1v1h-1zM369,405h1v1h-1zM370,405h1v2h-1zM371,406h1v1h-1zM373,405h1v1h-1zM374,405h1v1h-1zM376,405h1v2h-1zM377,406h1v1h-1zM378,405h1v2h-1zM380,406h1v1h-1zM382,405h1v1h-1zM385,406h1v1h-1zM388,406h1v1h-1zM390,405h1v2h-1zM393,405h1v2h-1zM394,406h1v1h-1zM395,405h1v2h-1zM396,405h1v1h-1zM397,405h1v1h-1zM398,405h1v1h-1zM399,405h1v2h-1zM400,405h1v2h-1zM401,405h1v2h-1zM402,405h1v1h-1zM403,405h1v2h-1zM404,406h1v1h-1zM405,405h1v2h-1zM406,405h1v1h-1zM408,405h1v2h-1zM409,406h1v1h-1zM411,405h1v1h-1zM412,405h1v1h-1zM415,405h1v1h-1zM416,405h1v2h-1zM417,405h1v1h-1zM421,406h1v1h-1zM422,406h1v1h-1zM423,405h1v2h-1zM427,405h1v1h-1zM428,406h1v1h-1zM429,405h1v1h-1zM430,406h1v1h-1z" fill="#0ff"/>
<path d="M351,405h1v1h-1zM351,407h1v1h-1zM352,405h1v3h-1zM353,407h1v1h-1z" fill="#0ff"/>
<path d="M358,411h1v1h-1zM359,409h1v4h-1zM360,409h1v2h-1zM360,412h1v1h-1zM361,411h1v2h-1z" fill="#0ff"/>
<path d="M358,410h1v1h-1zM359,410h1v1h-1zM360,411h1v1h-1z" fill="#0ff"/>
<path d="M358,414h1v4h-1zM359,414h1v2h-1zM360,416h1v2h-1zM361,414h1v3h-1z" fill="#0ff"/>
<path d="M363,414h1v4h-1zM364,414h1v2h-1zM365,414h1v3h-1z" fill="#0ff"/>
<path d="M367,416h1v1h-1zM368,415h1v1h-1zM369,415h1v3h-1zM370,414h1v1h-1zM370,416h1v2h-1z" fill="#0ff"/>
<path d="M372,414h1v1h-1zM372,416h1v1h-1zM373,414h1v1h-1zM373,416h1v2h-1zM374,414h1v1h-1z" fill="#0ff"/>
<path d="M376,414h1v1h-1zM376,416h1v1h-1zM377,415h1v2h-1zM378,414h1v1h-1zM378,416h1v1h-1zM379,415h1v3h-1z" fill="#0ff"/>
<path d="M381,415h1v3h-1zM382,414h1v1h-1zM383,414h1v4h-1zM384,415h1v2h-1z" fill="#0ff"/>
<path d="M386,415h1v3h-1zM387,415h1v1h-1zM387,417h1v1h-1zM388,414h1v1h-1zM388,416h1v2h-1z" fill="#0ff"/>
<path d="M390,414h1v3h-1zM391,414h1v2h-1zM391,417h1v1h-1zM392,414h1v1h-1zM392,417h1v1h-1zM393,416h1v2h-1z" fill="#0ff"/>
<path d="M395,416h1v1h-1zM397,414h1v1h-1zM397,417h1v1h-1z" fill="#0ff"/>
<path d="M399,417h1v1h-1zM400,414h1v4h-1zM401,416h1v1h-1zM402,415h1v1h-1z" fill="#0ff"/>
<path d="M404,414h1v3h-1zM405,414h1v1h-1zM405,416h1v2h-1zM406,414h1v1h-1zM406,416h1v2h-1zM407,415h1v1h-1zM407,417h1v1h-1z" fill="#0ff"/>
<path d="M409,414h1v1h-1zM409,417h1v1h-1zM410,414h1v4h-1zM411,417h1v1h-1z" fill="#0ff"/>
<path d="M413,415h1v3h-1zM414,414h1v1h-1zM414,416h1v2h-1zM415,414h1v1h-1zM415,417h1v1h-1zM416,414h1v1h-1zM416,417h1v1h-1z" fill="#0ff"/>
<path d="M418,414h1v1h-1zM418,416h1v2h-1zM419,414h1v2h-1zM419,417h1v1h-1zM420,414h1v1h-1zM420,416h1v2h-1z" fill="#0ff"/>
<path d="M422,416h1v2h-1zM424,414h1v4h-1zM425,414h1v1h-1z" fill="#0ff"/>
<path d="M359,415h1v1h-1zM361,415h1v1h-1zM362,415h1v1h-1zM363,416h1v1h-1zM364,416h1v1h-1zM366,415h1v2h-1zM368,415h1v1h-1zM369,415h1v2h-1zM370,415h1v1h-1zM372,416h1v1h-1zM373,415h1v2h-1zM375,415h1v1h-1zM376,415h1v2h-1zM377,415h1v2h-1zM379,416h1v1h-1zM380,415h1v2h-1zM381,416h1v1h-1zM383,415h1v2h-1zM384,415h1v2h-1zM386,415h1v1h-1zM387,415h1v1h-1zM388,416h1v1h-1zM389,415h1v1h-1zM390,416h1v1h-1zM392,415h1v2h-1zM394,415h1v2h-1zM395,416h1v1h-1zM397,415h1v2h-1zM398,415h1v2h-1zM399,415h1v1h-1zM401,415h1v1h-1zM403,415h1v1h-1zM404,415h1v1h-1zM406,416h1v1h-1zM407,415h1v2h-1zM408,416h1v1h-1zM409,415h1v1h-1zM411,415h1v2h-1zM412,416h1v1h-1zM413,416h1v1h-1zM416,415h1v1h-1zM417,415h1v1h-1zM418,415h1v1h-1zM419,415h1v1h-1zM420,415h1v2h-1zM423,415h1v1h-1zM424,415h1v1h-1zM425,415h1v2h-1zM427,416h1v1h-1zM429,415h1v1h-1z" fill="#0ff"/>
<path d="M351,414h1v3h-1zM352,414h1v3h-1zM353,414h1v3h-1z" fill="#0ff"/>
<path d="M358,419h1v1h-1zM358,421h1v1h-1zM359,419h1v4h-1zM360,419h1v1h-1zM360,422h1v1h-1zM361,421h1v2h-1z" fill="#0ff"/>
<path d="M363,421h1v2h-1zM364,419h1v3h-1zM365,419h1v1h-1zM365,421h1v2h-1z" fill="#0ff"/>
<path d="M367,420h1v3h-1zM368,419h1v4h-1zM369,419h1v4h-1zM370,421h1v1h-1z" fill="#0ff"/>
<path d="M372,420h1v3h-1zM373,419h1v1h-1zM373,421h1v2h-1zM374,421h1v1h-1z" fill="#0ff"/>
<path d="M376,419h1v2h-1zM376,422h1v1h-1zM377,419h1v1h-1zM377,421h1v1h-1zM378,419h1v1h-1zM378,421h1v1h-1zM379,419h1v4h-1z" fill="#0ff"/>
<path d="M381,419h1v2h-1zM381,422h1v1h-1zM382,421h1v2h-1zM383,420h1v1h-1zM383,422h1v1h-1zM384,419h1v1h-1zM384,421h1v1h-1z" fill="#0ff"/>
<path d="M386,420h1v2h-1zM387,419h1v1h-1zM388,419h1v2h-1zM388,422h1v1h-1z" fill="#0ff"/>
<path d="M390,421h1v1h-1zM391,419h1v1h-1zM391,421h1v1h-1zM392,419h1v1h-1zM392,421h1v1h-1zM393,419h1v4h-1z" fill="#0ff"/>
<path d="M395,419h1v1h-1zM395,422h1v1h-1zM396,422h1v1h-1zM397,421h1v2h-1z" fill="#0ff"/>
<path d="M399,420h1v2h-1zM400,419h1v2h-1zM400,422h1v1h-1zM401,419h1v2h-1zM402,419h1v2h-1z" fill="#0ff"/>
<path d="M358,421h1v1h-1zM359,420h1v1h-1zM360,420h1v2h-1zM361,420h1v1h-1zM362,420h1v1h-1zM364,420h1v1h-1zM366,420h1v1h-1zM367,421h1v1h-1zM368,421h1v1h-1zM369,420h1v2h-1zM373,421h1v1h-1zM374,420h1v2h-1zM375,420h1v2h-1zM376,420h1v2h-1zM380,420h1v1h-1zM381,420h1v1h-1zM383,420h1v2h-1zM385,421h1v1h-1zM386,420h1v2h-1zM393,421h1v1h-1zM394,420h1v2h-1zM395,420h1v1h-1zM396,420h1v2h-1zM397,420h1v2h-1zM398,421h1v1h-1zM399,420h1v1h-1zM400,420h1v2h-1zM401,421h1v1h-1zM402,420h1v2h-1zM404,420h1v1h-1z" fill="#0ff"/>
<path d="M358,424h1v2h-1zM359,424h1v2h-1zM360,424h1v3h-1zM361,426h1v2h-1z" fill="#0ff"/>
<path d="M363,426h1v2h-1zM364,424h1v1h-1zM364,426h1v1h-1zM365,425h1v1h-1z" fill="#0ff"/>
<path d="M367,424h1v4h-1zM368,424h1v1h-1zM368,427h1v1h-1zM369,424h1v4h-1zM370,424h1v1h-1zM370,426h1v1h-1z" fill="#0ff"/>
<path d="M372,424h1v1h-1zM372,427h1v1h-1zM373,424h1v3h-1zM374,425h1v3h-1z" fill="#0ff"/>
<path d="M376,424h1v4h-1zM377,425h1v3h-1zM378,424h1v1h-1zM378,426h1v2h-1zM379,424h1v1h-1zM379,426h1v2h-1z" fill="#0ff"/>
<path d="M381,424h1v4h-1zM382,425h1v3h-1zM383,426h1v1h-1zM384,424h1v1h-1zM384,426h1v1h-1z" fill="#0ff"/>
<path d="M386,424h1v3h-1zM387,424h1v1h-1zM387,426h1v2h-1zM388,424h1v3h-1z" fill="#0ff"/>
<path d="M390,424h1v2h-1zM390,427h1v1h-1zM391,424h1v3h-1zM392,424h1v4h-1zM393,424h1v2h-1z" fill="#0ff"/>
<path d="M395,427h1v1h-1zM396,424h1v4h-1zM397,425h1v3h-1z" fill="#0ff"/>
<path d="M399,426h1v2h-1zM400,425h1v1h-1zM400,427h1v1h-1zM401,425h1v1h-1zM401,427h1v1h-1zM402,424h1v2h-1z" fill="#0ff"/>
<path d="M404,426h1v2h-1zM405,424h1v1h-1zM405,426h1v2h-1zM406,424h1v3h-1zM407,424h1v2h-1z" fill="#0ff"/>
<path d="M409,424h1v2h-1zM409,427h1v1h-1zM410,424h1v4h-1zM411,424h1v1h-1zM411,427h1v1h-1z" fill="#0ff"/>
<path d="M413,424h1v1h-1zM413,426h1v2h-1zM414,424h1v2h-1zM414,427h1v1h-1zM415,424h1v1h-1zM415,427h1v1h-1zM416,426h1v2h-1z" fill="#0ff"/>
<path d="M418,425h1v3h-1zM419,424h1v4h-1zM420,424h1v2h-1zM420,427h1v1h-1z" fill="#0ff"/>
<path d="M358,425h1v1h-1zM362,425h1v2h-1zM363,425h1v1h-1zM364,425h1v2h-1zM365,426h1v1h-1zM368,425h1v2h-1zM370,425h1v2h-1zM371,425h1v1h-1zM373,425h1v2h-1zM375,426h1v1h-1zM376,426h1v1h-1zM378,426h1v1h-1zM379,425h1v1h-1zM380,426h1v1h-1zM381,425h1v2h-1zM382,426h1v1h-1zM385,425h1v1h-1zM386,425h1v1h-1zM387,425h1v2h-1zM390,426h1v1h-1zM391,425h1v2h-1zM392,426h1v1h-1zM394,425h1v1h-1zM396,425h1v1h-1zM397,425h1v1h-1zM399,425h1v1h-1zM401,425h1v1h-1zM405,425h1v1h-1zM407,426h1v1h-1zM408,425h1v1h-1zM409,426h1v1h-1zM411,425h1v2h-1zM412,425h1v1h-1zM413,425h1v2h-1zM414,425h1v2h-1zM416,426h1v1h-1zM417,425h1v1h-1zM418,425h1v1h-1zM420,426h1v1h-1zM421,425h1v2h-1z" fill="#0ff"/>
<path d="M351,424h1v2h-1zM352,426h1v1h-1zM353,424h1v3h-1z" fill="#0ff"/>
<path d="M358,429h1v3h-1zM359,429h1v3h-1zM360,431h1v2h-1zM361,429h1v4h-1z" fill="#0ff"/>
<path d="M363,429h1v1h-1zM364,430h1v3h-1zM365,431h1v2h-1z" fill="#0ff"/>
<path d="M367,429h1v4h-1zM368,430h1v1h-1zM368,432h1v1h-1zM369,429h1v2h-1zM369,432h1v1h-1zM370,430h1v2h-1z" fill="#0ff"/>
<path d="M372,431h1v2h-1zM373,430h1v1h-1zM373,432h1v1h-1zM374,429h1v1h-1zM374,431h1v2h-1z" fill="#0ff"/>
<path d="M376,429h1v2h-1zM377,430h1v1h-1zM377,432h1v1h-1zM378,429h1v1h-1zM378,431h1v2h-1zM379,429h1v2h-1z" fill="#0ff"/>
<path d="M381,429h1v1h-1zM381,431h1v1h-1zM382,429h1v3h-1zM383,430h1v1h-1zM384,430h1v3h-1z" fill="#0ff"/>
<path d="M387,429h1v2h-1zM387,432h1v1h-1zM388,430h1v3h-1z" fill="#0ff"/>
<path d="M390,429h1v1h-1zM390,431h1v2h-1zM391,429h1v4h-1zM392,429h1v1h-1zM392,431h1v2h-1zM393,432h1v1h-1z" fill="#0ff"/>
<path d="M395,429h1v1h-1zM395,431h1v2h-1zM396,429h1v4h-1zM397,430h1v2h-1z" fill="#0ff"/>
<path d="M399,429h1v3h-1zM400,429h1v4h-1zM401,429h1v1h-1zM401,431h1v1h-1zM402,429h1v2h-1zM402,432h1v1h-1z" fill="#0ff"/>
<path d="M404,430h1v1h-1zM405,429h1v3h-1zM406,429h1v2h-1zM406,432h1v1h-1zM407,429h1v4h-1z" fill="#0ff"/>
<path d="M409,431h1v2h-1zM410,429h1v1h-1zM410,432h1v1h-1zM411,431h1v1h-1z" fill="#0ff"/>
<path d="M413,429h1v1h-1zM413,432h1v1h-1zM414,429h1v1h-1zM414,431h1v2h-1zM415,429h1v1h-1zM416,430h1v3h-1z" fill="#0ff"/>
<path d="M418,429h1v3h-1zM419,429h1v1h-1zM419,431h1v1h-1zM420,429h1v4h-1z" fill="#0ff"/>
<path d="M422,430h1v3h-1zM423,430h1v3h-1zM424,429h1v1h-1zM424,431h1v1h-1zM425,429h1v4h-1z" fill="#0ff"/>
<path d="M360,431h1v1h-1zM361,430h1v1h-1zM363,430h1v2h-1zM365,430h1v2h-1zM366,430h1v2h-1zM368,431h1v1h-1zM369,430h1v2h-1zM372,430h1v2h-1zM373,430h1v1h-1zM375,430h1v1h-1zM376,430h1v2h-1zM377,430h1v1h-1zM378,430h1v1h-1zM382,430h1v1h-1zM383,430h1v2h-1zM384,430h1v1h-1zM385,430h1v2h-1zM386,430h1v1h-1zM389,430h1v2h-1zM391,431h1v1h-1zM393,431h1v1h-1zM394,431h1v1h-1zM395,430h1v2h-1zM396,430h1v2h-1zM398,431h1v1h-1zM400,431h1v1h-1zM401,431h1v1h-1zM402,430h1v2h-1zM404,431h1v1h-1zM405,430h1v1h-1zM406,430h1v2h-1zM410,431h1v1h-1zM411,430h1v1h-1zM412,431h1v1h-1zM413,430h1v2h-1zM414,431h1v1h-1zM415,430h1v1h-1zM416,430h1v2h-1zM417,430h1v2h-1zM418,430h1v2h-1zM419,430h1v2h-1zM420,430h1v2h-1zM421,430h1v2h-1zM423,431h1v1h-1zM424,430h1v1h-1zM425,431h1v1h-1zM427,430h1v1h-1zM428,431h1v1h-1zM429,430h1v1h-1z" fill="#0ff"/>
<path d="M351,430h1v3h-1zM352,430h1v3h-1z" fill="#0ff"/>
<path d="M358,434h1v1h-1zM358,436h1v2h-1zM359,434h1v1h-1zM360,434h1v1h-1zM360,436h1v2h-1zM361,435h1v3h-1z" fill="#0ff"/>
<path d="M363,435h1v3h-1zM364,436h1v1h-1zM365,435h1v3h-1z" fill="#0ff"/>
<path d="M367,434h1v4h-1zM368,436h1v2h-1zM369,434h1v4h-1zM370,434h1v3h-1z" fill="#0ff"/>
<path d="M372,434h1v4h-1zM373,435h1v3h-1zM374,437h1v1h-1z" fill="#0ff"/>
<path d="M377,435h1v3h-1zM378,434h1v1h-1zM378,436h1v1h-1zM379,434h1v2h-1z" fill="#0ff"/>
<path d="M381,437h1v1h-1zM382,435h1v1h-1zM382,437h1v1h-1zM383,434h1v4h-1zM384,434h1v4h-1z" fill="#0ff"/>
<path d="M386,434h1v4h-1zM387,434h1v4h-1zM388,434h1v1h-1zM388,436h1v2h-1z" fill="#0ff"/>
<path d="M390,434h1v1h-1zM390,436h1v1h-1zM391,434h1v4h-1zM392,434h1v2h-1zM392,437h1v1h-1zM393,434h1v1h-1zM393,437h1v1h-1z" fill="#0ff"/>
<path d="M395,435h1v2h-1zM396,434h1v3h-1zM397,434h1v1h-1zM397,436h1v1h-1z" fill="#0ff"/>
<path d="M399,434h1v2h-1zM399,437h1v1h-1zM400,434h1v2h-1zM400,437h1v1h-1zM401,434h1v1h-1zM401,436h1v2h-1zM402,437h1v1h-1z" fill="#0ff"/>
<path d="M404,435h1v1h-1zM404,437h1v1h-1zM405,435h1v3h-1zM406,434h1v3h-1zM407,434h1v1h-1zM407,436h1v2h-1z" fill="#0ff"/>
<path d="M358,436h1v1h-1zM359,435h1v1h-1zM363,435h1v1h-1zM364,435h1v2h-1zM365,435h1v1h-1zM367,436h1v1h-1zM369,435h1v1h-1zM371,436h1v1h-1zM372,435h1v2h-1zM373,435h1v1h-1zM374,436h1v1h-1zM377,435h1v1h-1zM379,435h1v2h-1zM380,436h1v1h-1zM381,436h1v1h-1zM382,436h1v1h-1zM383,436h1v1h-1zM384,436h1v1h-1zM385,435h1v2h-1zM386,435h1v2h-1zM387,436h1v1h-1zM388,436h1v1h-1zM390,435h1v1h-1zM391,435h1v2h-1zM393,435h1v2h-1zM394,435h1v2h-1zM397,435h1v1h-1zM400,435h1v2h-1zM401,435h1v1h-1zM403,435h1v2h-1zM404,436h1v1h-1zM405,435h1v1h-1zM406,435h1v1h-1z" fill="#0ff"/>
<path d="M358,439h1v4h-1zM359,440h1v3h-1zM360,440h1v3h-1zM361,440h1v2h-1z" fill="#0ff"/>
<path d="M363,439h1v3h-1zM364,439h1v3h-1zM365,440h1v3h-1z" fill="#0ff"/>
<path d="M367,439h1v1h-1zM367,441h1v2h-1zM368,439h1v2h-1zM368,442h1v1h-1zM369,440h1v3h-1zM370,439h1v2h-1zM370,442h1v1h-1z" fill="#0ff"/>
<path d="M372,439h1v2h-1zM373,440h1v2h-1zM374,439h1v1h-1zM374,442h1v1h-1z" fill="#0ff"/>
<path d="M376,439h1v1h-1zM376,441h1v2h-1zM377,441h1v2h-1zM378,439h1v3h-1zM379,439h1v1h-1zM379,441h1v1h-1z" fill="#0ff"/>
<path d="M381,439h1v4h-1zM382,440h1v3h-1zM383,439h1v1h-1zM383,441h1v2h-1zM384,441h1v2h-1z" fill="#0ff"/>
<path d="M386,440h1v1h-1zM386,442h1v1h-1zM387,439h1v2h-1zM387,442h1v1h-1zM388,439h1v2h-1zM388,442h1v1h-1z" fill="#0ff"/>
<path d="M390,439h1v1h-1zM391,441h1v2h-1zM392,440h1v2h-1zM393,440h1v3h-1z" fill="#0ff"/>
<path d="M395,440h1v1h-1zM395,442h1v1h-1zM396,439h1v4h-1zM397,439h1v2h-1z" fill="#0ff"/>
<path d="M399,441h1v1h-1zM400,439h1v1h-1zM400,441h1v2h-1zM401,440h1v1h-1zM401,442h1v1h-1zM402,440h1v2h-1z" fill="#0ff"/>
<path d="M404,440h1v3h-1zM405,440h1v3h-1zM406,440h1v2h-1zM407,439h1v1h-1zM407,441h1v2h-1z" fill="#0ff"/>
<path d="M409,439h1v1h-1zM409,442h1v1h-1zM410,441h1v1h-1zM411,439h1v2h-1zM411,442h1v1h-1z" fill="#0ff"/>
<path d="M413,439h1v1h-1zM413,441h1v2h-1zM414,440h1v3h-1zM415,439h1v3h-1zM416,441h1v1h-1z" fill="#0ff"/>
<path d="M418,439h1v1h-1zM418,442h1v1h-1zM419,440h1v1h-1zM419,442h1v1h-1zM420,441h1v2h-1z" fill="#0ff"/>
<path d="M422,439h1v2h-1zM423,439h1v2h-1zM423,442h1v1h-1zM424,439h1v1h-1zM424,441h1v2h-1zM425,439h1v2h-1zM425,442h1v1h-1z" fill="#0ff"/>
<path d="M359,441h1v1h-1zM360,441h1v1h-1zM361,440h1v2h-1zM363,441h1v1h-1zM364,440h1v1h-1zM365,440h1v1h-1zM366,441h1v1h-1zM368,440h1v2h-1zM371,440h1v2h-1zM373,441h1v1h-1zM374,440h1v1h-1zM375,440h1v1h-1zM376,441h1v1h-1zM377,441h1v1h-1zM379,440h1v1h-1zM385,440h1v2h-1zM386,440h1v1h-1zM387,441h1v1h-1zM388,441h1v1h-1zM389,440h1v2h-1zM390,440h1v1h-1zM391,440h1v2h-1zM393,441h1v1h-1zM395,440h1v1h-1zM396,441h1v1h-1zM397,440h1v1h-1zM398,441h1v1h-1zM399,440h1v1h-1zM400,440h1v1h-1zM401,440h1v1h-1zM402,440h1v2h-1zM403,440h1v1h-1zM404,440h1v2h-1zM405,440h1v1h-1zM406,440h1v1h-1zM407,440h1v2h-1zM408,441h1v1h-1zM409,441h1v1h-1zM410,441h1v1h-1zM411,441h1v1h-1zM412,440h1v2h-1zM413,441h1v1h-1zM414,441h1v1h-1zM415,441h1v1h-1zM418,440h1v2h-1zM419,440h1v2h-1zM420,440h1v2h-1zM421,441h1v1h-1zM422,441h1v1h-1zM423,440h1v2h-1zM424,440h1v1h-1zM425,441h1v1h-1zM427,440h1v1h-1zM428,441h1v1h-1zM429,440h1v2h-1z" fill="#0ff"/>
<path d="M351,440h1v2h-1zM352,439h1v2h-1zM353,439h1v3h-1z" fill="#0ff"/>
<path d="M358,444h1v3h-1zM359,444h1v1h-1zM360,446h1v2h-1zM361,446h1v2h-1z" fill="#0ff"/>
<path d="M363,444h1v4h-1zM364,444h1v2h-1zM364,447h1v1h-1zM365,445h1v3h-1z" fill="#0ff"/>
<path d="M367,445h1v1h-1zM367,447h1v1h-1zM368,444h1v4h-1zM369,445h1v3h-1zM370,445h1v1h-1zM370,447h1v1h-1z" fill="#0ff"/>
<path d="M372,444h1v1h-1zM372,446h1v2h-1zM373,444h1v1h-1zM373,446h1v2h-1zM374,444h1v3h-1z" fill="#0ff"/>
<path d="M376,444h1v4h-1zM377,446h1v2h-1zM378,444h1v3h-1zM379,444h1v4h-1z" fill="#0ff"/>
<path d="M381,444h1v1h-1zM381,446h1v1h-1zM382,445h1v2h-1zM383,444h1v1h-1zM383,446h1v1h-1zM384,444h1v4h-1z" fill="#0ff"/>
<path d="M386,444h1v2h-1zM386,447h1v1h-1zM387,445h1v1h-1zM388,444h1v1h-1zM388,446h1v1h-1z" fill="#0ff"/>
<path d="M390,446h1v2h-1zM391,447h1v1h-1zM393,444h1v2h-1z" fill="#0ff"/>
<path d="M395,444h1v1h-1zM395,446h1v2h-1zM396,444h1v2h-1zM396,447h1v1h-1zM397,445h1v2h-1z" fill="#0ff"/>
<path d="M399,445h1v3h-1zM400,445h1v3h-1zM401,444h1v1h-1zM401,446h1v1h-1zM402,446h1v2h-1z" fill="#0ff"/>
<path d="M358,445h1v2h-1zM360,446h1v1h-1zM363,445h1v2h-1zM365,445h1v2h-1zM366,446h1v1h-1zM367,445h1v2h-1zM369,445h1v1h-1zM370,446h1v1h-1zM371,446h1v1h-1zM373,445h1v2h-1zM374,445h1v2h-1zM376,445h1v2h-1zM377,446h1v1h-1zM378,445h1v1h-1zM379,445h1v2h-1zM380,446h1v1h-1zM382,445h1v1h-1zM383,445h1v1h-1zM385,446h1v1h-1zM386,445h1v1h-1zM387,446h1v1h-1zM388,445h1v2h-1zM391,446h1v1h-1zM392,446h1v1h-1zM394,446h1v1h-1zM395,446h1v1h-1zM396,445h1v1h-1zM397,446h1v1h-1zM398,446h1v1h-1zM399,446h1v1h-1zM400,445h1v1h-1zM401,445h1v1h-1zM402,445h1v2h-1z" fill="#0ff"/>
<path d="M358,449h1v4h-1zM359,450h1v1h-1zM360,449h1v1h-1zM360,452h1v1h-1zM361,449h1v4h-1z" fill="#0ff"/>
<path d="M363,449h1v3h-1zM364,449h1v1h-1zM364,451h1v1h-1zM365,449h1v1h-1zM365,451h1v1h-1z" fill="#0ff"/>
<path d="M367,449h1v1h-1zM367,451h1v2h-1zM368,449h1v1h-1zM368,451h1v1h-1zM369,449h1v1h-1zM369,451h1v2h-1zM370,449h1v1h-1zM370,451h1v2h-1z" fill="#0ff"/>
<path d="M372,449h1v4h-1zM373,449h1v1h-1zM373,451h1v1h-1zM374,450h1v3h-1z" fill="#0ff"/>
<path d="M376,451h1v2h-1zM377,449h1v1h-1zM377,451h1v1h-1zM378,450h1v1h-1zM379,449h1v1h-1z" fill="#0ff"/>
<path d="M381,449h1v1h-1zM381,451h1v1h-1zM382,450h1v1h-1zM383,451h1v1h-1zM384,450h1v3h-1z" fill="#0ff"/>
<path d="M386,449h1v2h-1zM387,451h1v2h-1zM388,450h1v2h-1z" fill="#0ff"/>
<path d="M390,449h1v4h-1zM391,450h1v1h-1zM392,450h1v1h-1zM392,452h1v1h-1zM393,449h1v1h-1zM393,451h1v1h-1z" fill="#0ff"/>
<path d="M395,449h1v4h-1zM396,450h1v1h-1zM397,449h1v1h-1zM397,451h1v2h-1z" fill="#0ff"/>
<path d="M399,449h1v1h-1zM399,452h1v1h-1zM400,450h1v3h-1zM401,450h1v3h-1zM402,449h1v4h-1z" fill="#0ff"/>
<path d="M404,449h1v1h-1zM404,451h1v1h-1zM405,450h1v2h-1zM406,449h1v2h-1zM406,452h1v1h-1zM407,450h1v3h-1z" fill="#0ff"/>
<path d="M409,452h1v1h-1zM410,451h1v1h-1zM411,449h1v2h-1z" fill="#0ff"/>
<path d="M413,450h1v3h-1zM414,449h1v4h-1zM415,449h1v1h-1zM415,451h1v2h-1zM416,449h1v2h-1z" fill="#0ff"/>
<path d="M418,449h1v2h-1zM419,451h1v2h-1zM420,449h1v4h-1z" fill="#0ff"/>
<path d="M422,449h1v1h-1zM422,451h1v2h-1zM423,449h1v4h-1zM424,451h1v1h-1zM425,451h1v1h-1z" fill="#0ff"/>
<path d="M358,450h1v2h-1zM359,451h1v1h-1zM361,450h1v2h-1zM362,451h1v1h-1zM364,450h1v1h-1zM365,450h1v1h-1zM367,451h1v1h-1zM371,451h1v1h-1zM372,451h1v1h-1zM373,450h1v1h-1zM375,450h1v1h-1zM380,451h1v1h-1zM381,450h1v2h-1zM382,450h1v1h-1zM383,450h1v1h-1zM384,451h1v1h-1zM386,450h1v1h-1zM387,451h1v1h-1zM389,450h1v2h-1zM390,451h1v1h-1zM391,450h1v1h-1zM394,450h1v2h-1zM395,450h1v2h-1zM396,450h1v2h-1zM397,451h1v1h-1zM398,451h1v1h-1zM399,450h1v1h-1zM400,450h1v2h-1zM402,451h1v1h-1zM403,450h1v1h-1zM404,450h1v1h-1zM406,450h1v2h-1zM407,450h1v1h-1zM408,450h1v1h-1zM409,450h1v1h-1zM411,451h1v1h-1zM412,450h1v2h-1zM413,451h1v1h-1zM414,450h1v2h-1zM416,450h1v1h-1zM417,450h1v2h-1zM418,450h1v1h-1zM419,450h1v1h-1zM421,450h1v2h-1zM422,450h1v1h-1zM424,450h1v2h-1zM425,450h1v1h-1zM426,451h1v1h-1zM427,451h1v1h-1zM428,451h1v1h-1z" fill="#0ff"/>
<path d="M351,449h1v3h-1zM352,449h1v3h-1zM353,451h1v1h-1z" fill="#0ff"/>
<path d="M358,453h1v1h-1zM359,453h1v1h-1zM359,455h1v2h-1zM360,453h1v4h-1zM361,453h1v2h-1z" fill="#0ff"/>
<path d="M363,453h1v1h-1zM363,455h1v2h-1zM364,455h1v2h-1zM365,454h1v1h-1zM365,456h1v1h-1z" fill="#0ff"/>
<path d="M367,453h1v3h-1zM368,455h1v1h-1zM369,453h1v1h-1zM369,455h1v2h-1zM370,453h1v2h-1z" fill="#0ff"/>
<path d="M372,454h1v2h-1zM373,455h1v1h-1zM374,453h1v1h-1zM374,455h1v2h-1z" fill="#0ff"/>
<path d="M376,453h1v1h-1zM376,456h1v1h-1zM377,453h1v1h-1zM377,455h1v1h-1zM378,454h1v3h-1zM379,453h1v2h-1z" fill="#0ff"/>
<path d="M381,453h1v1h-1zM381,455h1v1h-1zM382,453h1v4h-1zM383,454h1v3h-1zM384,453h1v3h-1z" fill="#0ff"/>
<path d="M386,453h1v4h-1zM387,454h1v3h-1zM388,453h1v1h-1zM388,456h1v1h-1z" fill="#0ff"/>
<path d="M390,453h1v2h-1zM391,453h1v4h-1zM392,453h1v4h-1zM393,454h1v2h-1z" fill="#0ff"/>
<path d="M395,455h1v1h-1zM396,453h1v4h-1zM397,453h1v2h-1zM397,456h1v1h-1z" fill="#0ff"/>
<path d="M399,454h1v1h-1zM400,453h1v1h-1zM400,456h1v1h-1zM401,454h1v1h-1zM402,454h1v3h-1z" fill="#0ff"/>
<path d="M404,453h1v1h-1zM404,455h1v2h-1zM405,454h1v1h-1zM406,454h1v3h-1zM407,453h1v4h-1z" fill="#0ff"/>
<path d="M409,454h1v1h-1zM409,456h1v1h-1zM410,456h1v1h-1zM411,453h1v3h-1z" fill="#0ff"/>
<path d="M413,453h1v1h-1zM413,455h1v2h-1zM414,453h1v1h-1zM414,456h1v1h-1zM415,455h1v2h-1zM416,453h1v1h-1zM416,455h1v1h-1z" fill="#0ff"/>
<path d="M418,456h1v1h-1zM419,453h1v4h-1zM420,454h1v3h-1z" fill="#0ff"/>
<path d="M422,453h1v4h-1zM423,455h1v1h-1zM424,453h1v4h-1zM425,453h1v3h-1z" fill="#0ff"/>
<path d="M358,454h1v1h-1zM361,455h1v1h-1zM362,454h1v2h-1zM365,454h1v1h-1zM366,454h1v1h-1zM367,455h1v1h-1zM368,455h1v1h-1zM369,454h1v1h-1zM370,455h1v1h-1zM371,454h1v1h-1zM372,454h1v1h-1zM373,454h1v2h-1zM374,454h1v1h-1zM375,454h1v1h-1zM377,455h1v1h-1zM378,455h1v1h-1zM379,454h1v2h-1zM381,454h1v2h-1zM382,454h1v1h-1zM385,454h1v2h-1zM386,454h1v1h-1zM389,454h1v1h-1zM390,455h1v1h-1zM391,455h1v1h-1zM392,455h1v1h-1zM396,455h1v1h-1zM397,454h1v1h-1zM398,454h1v1h-1zM402,454h1v2h-1zM404,454h1v1h-1zM405,454h1v2h-1zM408,454h1v1h-1zM409,454h1v2h-1zM411,454h1v1h-1zM412,454h1v2h-1zM414,454h1v1h-1zM415,455h1v1h-1zM417,454h1v1h-1zM418,454h1v2h-1zM419,454h1v1h-1zM420,455h1v1h-1zM421,454h1v1h-1zM423,454h1v1h-1zM424,454h1v2h-1zM425,454h1v1h-1zM426,455h1v1h-1zM427,455h1v1h-1zM428,454h1v1h-1zM429,455h1v1h-1z" fill="#0ff"/>
<path d="M358,459h1v2h-1zM360,458h1v1h-1zM360,460h1v1h-1zM361,461h1v1h-1z" fill="#0ff"/>
<path d="M363,458h1v1h-1zM363,460h1v2h-1zM364,458h1v1h-1zM364,460h1v2h-1zM365,459h1v1h-1z" fill="#0ff"/>
<path d="M367,458h1v3h-1zM368,458h1v3h-1zM369,458h1v1h-1zM369,460h1v1h-1zM370,458h1v4h-1z" fill="#0ff"/>
<path d="M372,458h1v1h-1zM372,460h1v2h-1zM373,458h1v3h-1zM374,458h1v4h-1z" fill="#0ff"/>
<path d="M376,459h1v1h-1zM377,458h1v1h-1zM377,460h1v1h-1zM378,459h1v1h-1zM378,461h1v1h-1zM379,459h1v1h-1zM379,461h1v1h-1z" fill="#0ff"/>
<path d="M381,458h1v4h-1zM382,460h1v2h-1zM383,459h1v3h-1zM384,458h1v1h-1zM384,461h1v1h-1z" fill="#0ff"/>
<path d="M386,458h1v4h-1zM387,460h1v2h-1zM388,458h1v4h-1z" fill="#0ff"/>
<path d="M390,458h1v1h-1zM391,458h1v1h-1zM391,460h1v2h-1zM392,460h1v2h-1zM393,461h1v1h-1z" fill="#0ff"/>
<path d="M395,458h1v2h-1zM396,458h1v2h-1zM397,459h1v2h-1z" fill="#0ff"/>
<path d="M399,459h1v2h-1zM400,458h1v3h-1zM401,459h1v1h-1zM401,461h1v1h-1zM402,458h1v1h-1z" fill="#0ff"/>
<path d="M405,458h1v4h-1zM406,458h1v2h-1zM406,461h1v1h-1zM407,459h1v2h-1z" fill="#0ff"/>
<path d="M409,460h1v2h-1zM410,460h1v2h-1zM411,459h1v3h-1z" fill="#0ff"/>
<path d="M413,460h1v1h-1zM414,458h1v1h-1zM414,460h1v1h-1zM415,460h1v2h-1zM416,458h1v4h-1z" fill="#0ff"/>
<path d="M418,459h1v1h-1zM418,461h1v1h-1zM420,458h1v2h-1z" fill="#0ff"/>
<path d="M422,459h1v3h-1zM423,458h1v3h-1zM424,461h1v1h-1zM425,459h1v3h-1z" fill="#0ff"/>
<path d="M427,459h1v1h-1zM427,461h1v1h-1zM428,459h1v1h-1zM429,458h1v2h-1zM429,461h1v1h-1zM430,461h1v1h-1z" fill="#0ff"/>
<path d="M358,460h1v1h-1zM360,459h1v2h-1zM361,459h1v2h-1zM362,459h1v1h-1zM363,459h1v1h-1zM365,460h1v1h-1zM367,459h1v1h-1zM368,459h1v2h-1zM370,459h1v1h-1zM371,459h1v2h-1zM372,459h1v1h-1zM373,459h1v1h-1zM374,459h1v2h-1zM375,460h1v1h-1zM377,459h1v2h-1zM381,459h1v1h-1zM382,460h1v1h-1zM384,460h1v1h-1zM385,460h1v1h-1zM387,459h1v1h-1zM388,459h1v2h-1zM389,459h1v2h-1zM390,459h1v1h-1zM391,460h1v1h-1zM392,459h1v2h-1zM393,460h1v1h-1zM394,460h1v1h-1zM395,459h1v1h-1zM396,460h1v1h-1zM397,459h1v1h-1zM398,459h1v1h-1zM399,460h1v1h-1zM400,459h1v2h-1zM401,459h1v2h-1zM406,459h1v1h-1zM407,459h1v2h-1zM409,459h1v2h-1zM410,459h1v2h-1zM411,459h1v1h-1zM412,459h1v1h-1zM413,459h1v1h-1zM414,460h1v1h-1zM415,460h1v1h-1zM417,459h1v2h-1zM418,459h1v2h-1zM420,460h1v1h-1zM421,460h1v1h-1zM423,459h1v2h-1zM424,459h1v1h-1zM425,459h1v1h-1zM426,459h1v1h-1zM429,459h1v2h-1zM430,460h1v1h-1z" fill="#0ff"/>
<path d="M358,463h1v4h-1zM359,464h1v2h-1zM360,463h1v1h-1zM360,465h1v1h-1zM361,464h1v3h-1z" fill="#0ff"/>
<path d="M363,463h1v1h-1zM364,463h1v4h-1zM365,463h1v1h-1zM365,465h1v2h-1z" fill="#0ff"/>
<path d="M367,464h1v1h-1zM368,465h1v2h-1zM369,463h1v1h-1zM369,465h1v2h-1zM370,463h1v4h-1z" fill="#0ff"/>
<path d="M372,463h1v4h-1zM373,463h1v4h-1zM374,463h1v3h-1z" fill="#0ff"/>
<path d="M376,464h1v2h-1zM377,463h1v1h-1zM377,466h1v1h-1zM378,464h1v1h-1zM379,465h1v2h-1z" fill="#0ff"/>
<path d="M381,464h1v3h-1zM382,463h1v2h-1zM382,466h1v1h-1zM383,463h1v1h-1zM383,466h1v1h-1zM384,463h1v3h-1z" fill="#0ff"/>
<path d="M386,463h1v1h-1zM386,465h1v2h-1zM387,464h1v1h-1zM387,466h1v1h-1zM388,463h1v1h-1zM388,465h1v1h-1z" fill="#0ff"/>
<path d="M390,463h1v1h-1zM390,466h1v1h-1zM391,466h1v1h-1zM392,465h1v2h-1zM393,463h1v3h-1z" fill="#0ff"/>
<path d="M395,463h1v1h-1zM395,466h1v1h-1zM396,463h1v3h-1zM397,464h1v2h-1z" fill="#0ff"/>
<path d="M400,465h1v1h-1zM401,464h1v2h-1zM402,463h1v1h-1zM402,465h1v2h-1z" fill="#0ff"/>
<path d="M404,463h1v1h-1zM404,465h1v1h-1zM405,464h1v1h-1zM406,464h1v3h-1zM407,464h1v1h-1zM407,466h1v1h-1z" fill="#0ff"/>
<path d="M409,463h1v1h-1zM410,463h1v2h-1zM411,463h1v2h-1zM411,466h1v1h-1z" fill="#0ff"/>
<path d="M358,464h1v1h-1zM359,464h1v1h-1zM360,465h1v1h-1zM365,465h1v1h-1zM366,464h1v1h-1zM367,464h1v2h-1zM368,465h1v1h-1zM369,465h1v1h-1zM370,465h1v1h-1zM371,465h1v1h-1zM373,464h1v1h-1zM375,464h1v1h-1zM377,464h1v2h-1zM378,465h1v1h-1zM380,464h1v2h-1zM381,464h1v1h-1zM382,465h1v1h-1zM383,465h1v1h-1zM384,464h1v1h-1zM385,465h1v1h-1zM386,464h1v2h-1zM387,464h1v1h-1zM390,465h1v1h-1zM391,464h1v1h-1zM392,464h1v1h-1zM393,464h1v2h-1zM394,465h1v1h-1zM396,464h1v2h-1zM397,464h1v1h-1zM399,464h1v1h-1zM400,465h1v1h-1zM401,464h1v1h-1zM402,465h1v1h-1zM405,464h1v1h-1zM406,464h1v1h-1zM407,465h1v1h-1zM408,464h1v1h-1zM411,464h1v1h-1zM412,465h1v1h-1zM413,465h1v1h-1z" fill="#0ff"/>
<path d="M358,469h1v1h-1zM359,469h1v3h-1zM360,469h1v1h-1zM360,471h1v1h-1zM361,468h1v4h-1z" fill="#0ff"/>
<path d="M363,468h1v2h-1zM363,471h1v1h-1zM364,469h1v1h-1zM364,471h1v1h-1zM365,468h1v3h-1z" fill="#0ff"/>
<path d="M367,468h1v3h-1zM369,468h1v1h-1zM369,471h1v1h-1zM370,468h1v2h-1zM370,471h1v1h-1z" fill="#0ff"/>
<path d="M372,470h1v2h-1zM373,468h1v2h-1zM373,471h1v1h-1zM374,470h1v2h-1z" fill="#0ff"/>
<path d="M376,469h1v1h-1zM376,471h1v1h-1zM377,468h1v4h-1zM378,468h1v3h-1zM379,469h1v3h-1z" fill="#0ff"/>
<path d="M381,469h1v3h-1zM382,468h1v2h-1zM382,471h1v1h-1zM383,468h1v4h-1zM384,468h1v4h-1z" fill="#0ff"/>
<path d="M386,469h1v1h-1zM386,471h1v1h-1zM387,468h1v3h-1zM388,469h1v3h-1z" fill="#0ff"/>
<path d="M390,469h1v1h-1zM390,471h1v1h-1zM391,468h1v1h-1zM391,470h1v1h-1zM392,468h1v2h-1zM393,468h1v1h-1zM393,470h1v1h-1z" fill="#0ff"/>
<path d="M395,468h1v1h-1zM395,470h1v2h-1zM396,468h1v1h-1zM397,468h1v2h-1zM397,471h1v1h-1z" fill="#0ff"/>
<path d="M399,469h1v3h-1zM400,468h1v1h-1zM400,470h1v1h-1zM401,469h1v1h-1zM401,471h1v1h-1zM402,468h1v3h-1z" fill="#0ff"/>
<path d="M404,468h1v4h-1zM405,468h1v3h-1zM406,469h1v1h-1zM406,471h1v1h-1zM407,468h1v4h-1z" fill="#0ff"/>
<path d="M409,469h1v2h-1zM410,468h1v3h-1zM411,469h1v3h-1z" fill="#0ff"/>
<path d="M413,469h1v2h-1zM414,468h1v1h-1zM414,471h1v1h-1zM415,468h1v1h-1zM415,470h1v2h-1zM416,468h1v4h-1z" fill="#0ff"/>
<path d="M418,471h1v1h-1zM419,468h1v2h-1zM419,471h1v1h-1zM420,469h1v3h-1z" fill="#0ff"/>
<path d="M422,469h1v1h-1zM422,471h1v1h-1zM423,468h1v2h-1zM424,469h1v3h-1zM425,471h1v1h-1z" fill="#0ff"/>
<path d="M359,469h1v1h-1zM362,469h1v1h-1zM364,469h1v1h-1zM365,469h1v1h-1zM368,469h1v2h-1zM369,469h1v1h-1zM370,469h1v1h-1zM371,470h1v1h-1zM372,469h1v2h-1zM374,469h1v2h-1zM375,469h1v2h-1zM376,470h1v1h-1zM377,469h1v1h-1zM378,470h1v1h-1zM380,470h1v1h-1zM381,469h1v2h-1zM382,469h1v2h-1zM383,469h1v1h-1zM384,469h1v1h-1zM386,469h1v1h-1zM388,470h1v1h-1zM390,469h1v1h-1zM391,470h1v1h-1zM393,470h1v1h-1zM394,469h1v1h-1zM395,469h1v1h-1zM397,469h1v2h-1zM398,470h1v1h-1zM400,470h1v1h-1zM402,470h1v1h-1zM403,470h1v1h-1zM405,469h1v1h-1zM406,469h1v1h-1zM407,470h1v1h-1zM408,470h1v1h-1zM409,470h1v1h-1zM410,469h1v1h-1zM411,469h1v2h-1zM412,469h1v1h-1zM414,469h1v2h-1zM415,470h1v1h-1zM419,470h1v1h-1zM420,469h1v1h-1zM423,470h1v1h-1zM424,469h1v1h-1zM426,470h1v1h-1zM427,469h1v1h-1zM428,470h1v1h-1z" fill="#0ff"/>
<path d="M351,469h1v2h-1zM352,469h1v2h-1zM353,469h1v3h-1z" fill="#0ff"/>
<path d="M358,473h1v3h-1zM359,475h1v2h-1zM360,473h1v1h-1zM360,475h1v1h-1zM361,475h1v2h-1z" fill="#0ff"/>
<path d="M363,473h1v2h-1zM363,476h1v1h-1zM364,473h1v2h-1zM365,473h1v3h-1z" fill="#0ff"/>
<path d="M367,473h1v2h-1zM367,476h1v1h-1zM368,473h1v1h-1zM368,475h1v2h-1zM369,474h1v1h-1zM369,476h1v1h-1zM370,474h1v1h-1zM370,476h1v1h-1z" fill="#0ff"/>
<path d="M358,475h1v1h-1zM359,474h1v2h-1zM360,474h1v2h-1zM363,474h1v2h-1zM364,475h1v1h-1zM367,474h1v2h-1zM368,474h1v1h-1zM373,474h1v1h-1z" fill="#0ff"/>
<path d="M358,479h1v3h-1zM359,478h1v1h-1zM359,480h1v1h-1zM360,478h1v1h-1zM360,480h1v2h-1zM361,479h1v1h-1zM361,481h1v1h-1z" fill="#0ff"/>
<path d="M363,478h1v3h-1zM364,478h1v3h-1zM365,478h1v1h-1zM365,481h1v1h-1z" fill="#0ff"/>
<path d="M367,478h1v3h-1zM368,478h1v1h-1zM368,480h1v1h-1zM369,478h1v1h-1zM369,481h1v1h-1zM370,479h1v2h-1z" fill="#0ff"/>
<path d="M372,480h1v1h-1zM373,479h1v1h-1zM374,478h1v4h-1z" fill="#0ff"/>
<path d="M376,478h1v2h-1zM376,481h1v1h-1zM377,478h1v2h-1zM377,481h1v1h-1zM378,478h1v3h-1zM379,478h1v2h-1zM379,481h1v1h-1z" fill="#0ff"/>
<path d="M381,478h1v3h-1zM382,481h1v1h-1zM383,478h1v2h-1zM383,481h1v1h-1zM384,478h1v1h-1zM384,480h1v2h-1z" fill="#0ff"/>
<path d="M386,478h1v2h-1zM386,481h1v1h-1zM387,480h1v2h-1zM388,478h1v2h-1zM388,481h1v1h-1z" fill="#0ff"/>
<path d="M390,478h1v4h-1zM391,479h1v2h-1zM392,478h1v4h-1zM393,479h1v1h-1z" fill="#0ff"/>
<path d="M395,479h1v3h-1zM396,478h1v1h-1zM396,480h1v1h-1zM397,480h1v2h-1z" fill="#0ff"/>
<path d="M399,479h1v3h-1zM400,478h1v4h-1zM401,479h1v1h-1zM402,478h1v4h-1z" fill="#0ff"/>
<path d="M404,478h1v1h-1zM404,480h1v2h-1zM405,478h1v1h-1zM405,481h1v1h-1zM406,478h1v4h-1zM407,478h1v4h-1z" fill="#0ff"/>
<path d="M409,478h1v4h-1zM410,478h1v1h-1zM410,481h1v1h-1zM411,479h1v1h-1z" fill="#0ff"/>
<path d="M413,478h1v1h-1zM413,480h1v2h-1zM414,478h1v2h-1zM415,479h1v1h-1zM415,481h1v1h-1zM416,478h1v3h-1z" fill="#0ff"/>
<path d="M418,478h1v2h-1zM418,481h1v1h-1zM419,479h1v3h-1zM420,479h1v1h-1zM420,481h1v1h-1z" fill="#0ff"/>
<path d="M422,478h1v2h-1zM422,481h1v1h-1zM423,479h1v3h-1zM424,478h1v3h-1zM425,478h1v1h-1zM425,480h1v2h-1z" fill="#0ff"/>
<path d="M358,480h1v1h-1zM359,479h1v2h-1zM361,479h1v2h-1zM362,480h1v1h-1zM364,479h1v2h-1zM366,479h1v2h-1zM367,479h1v1h-1zM368,479h1v1h-1zM369,479h1v1h-1zM370,479h1v1h-1zM372,480h1v1h-1zM374,479h1v1h-1zM375,480h1v1h-1zM376,479h1v1h-1zM378,479h1v2h-1zM379,479h1v2h-1zM380,480h1v1h-1zM382,480h1v1h-1zM383,479h1v2h-1zM385,480h1v1h-1zM386,480h1v1h-1zM387,479h1v1h-1zM389,479h1v2h-1zM390,479h1v2h-1zM391,479h1v1h-1zM392,479h1v2h-1zM393,480h1v1h-1zM394,479h1v2h-1zM395,480h1v1h-1zM396,480h1v1h-1zM398,480h1v1h-1zM401,480h1v1h-1zM402,480h1v1h-1zM403,480h1v1h-1zM404,479h1v1h-1zM406,479h1v2h-1zM407,479h1v1h-1zM408,479h1v1h-1zM410,479h1v1h-1zM412,480h1v1h-1zM415,479h1v1h-1zM416,479h1v2h-1zM417,479h1v1h-1zM418,479h1v2h-1zM419,479h1v2h-1zM420,479h1v1h-1zM422,479h1v1h-1zM424,480h1v1h-1zM425,479h1v2h-1zM426,479h1v2h-1zM427,479h1v2h-1zM428,480h1v1h-1z" fill="#0ff"/>
<path d="M351,478h1v3h-1zM352,478h1v3h-1zM353,478h1v3h-1z" fill="#0ff"/>
<path d="M358,483h1v2h-1zM358,486h1v1h-1zM359,483h1v1h-1zM359,485h1v2h-1zM360,483h1v1h-1zM361,483h1v4h-1z" fill="#0ff"/>
<path d="M363,483h1v1h-1zM363,486h1v1h-1zM364,483h1v1h-1zM364,485h1v2h-1zM365,483h1v4h-1z" fill="#0ff"/>
<path d="M358,484h1v1h-1zM359,485h1v1h-1zM360,484h1v2h-1zM362,485h1v1h-1zM363,484h1v1h-1z" fill="#0ff"/>
</g>
</svg>
</body></html>
